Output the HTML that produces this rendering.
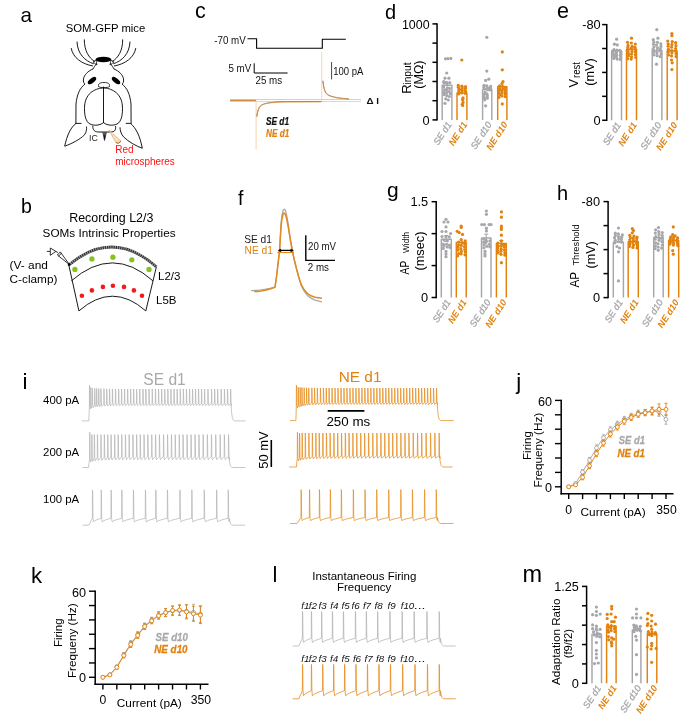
<!DOCTYPE html>
<html><head><meta charset="utf-8"><style>html,body{margin:0;padding:0;background:#fff;width:685px;height:716px;overflow:hidden}svg{display:block;will-change:transform}text{font-family:"Liberation Sans",sans-serif}</style></head><body>
<svg width="685" height="716" viewBox="0 0 685 716">
<rect width="685" height="716" fill="#fff"/>
<text x="20.4" y="21.5" font-size="20.6" fill="#000">a</text>
<text x="21" y="212.5" font-size="19.5" fill="#000">b</text>
<text x="195" y="17.8" font-size="21.5" fill="#000">c</text>
<text x="385" y="18.6" font-size="20" fill="#000">d</text>
<text x="557" y="17.5" font-size="21.5" fill="#000">e</text>
<text x="237.9" y="205.2" font-size="19.5" fill="#000">f</text>
<text x="387" y="196.8" font-size="21" fill="#000">g</text>
<text x="557" y="200.3" font-size="20" fill="#000">h</text>
<text x="22.6" y="388.6" font-size="22.5" fill="#000">i</text>
<text x="516.3" y="388.6" font-size="22.5" fill="#000">j</text>
<text x="31" y="582.7" font-size="22.3" fill="#000">k</text>
<text x="272.6" y="581.8" font-size="22" fill="#000">l</text>
<text x="522.6" y="582.1" font-size="23.5" fill="#000">m</text>
<text x="105.5" y="32.2" font-size="11.3" fill="#000" text-anchor="middle">SOM-GFP mice</text>
<path d="M71.2,48.1 C73,58 82,64 93,66" fill="none" stroke="#000" stroke-width="0.9"/>
<path d="M77,41.6 C77.5,54 85,61 93.8,63.8" fill="none" stroke="#000" stroke-width="0.9"/>
<path d="M84.3,39.4 C84.3,51 89,58 94.8,61.6" fill="none" stroke="#000" stroke-width="0.9"/>
<g transform="translate(207,0) scale(-1,1)">
<path d="M71.2,48.1 C73,58 82,64 93,66" fill="none" stroke="#000" stroke-width="0.9"/>
<path d="M77,41.6 C77.5,54 85,61 93.8,63.8" fill="none" stroke="#000" stroke-width="0.9"/>
<path d="M84.3,39.4 C84.3,51 89,58 94.8,61.6" fill="none" stroke="#000" stroke-width="0.9"/>
</g>
<ellipse cx="103.4" cy="59.5" rx="7.9" ry="2.8" fill="#000"/>
<g transform="translate(0,0) scale(1,1)">
<path d="M93,62 L96,60 L97,65 Z" fill="none" stroke="#000" stroke-width="0.7"/>
</g>
<g transform="translate(207,0) scale(-1,1)">
<path d="M93,62 L96,60 L97,65 Z" fill="none" stroke="#000" stroke-width="0.7"/>
</g>
<path d="M96.5,63.5 C95,66 94,67 93,69 C88,71 84,75 83.5,79 C83,82 84,83.5 85,84 C80,88 77,94 76,104 L75.9,124 " fill="none" stroke="#000" stroke-width="0.9"/>
<g transform="translate(207,0) scale(-1,1)">
<path d="M96.5,63.5 C95,66 94,67 93,69 C88,71 84,75 83.5,79 C83,82 84,83.5 85,84 C80,88 77,94 76,104 L75.9,124 " fill="none" stroke="#000" stroke-width="0.9"/>
</g>
<ellipse cx="92.0" cy="80.6" rx="5.0" ry="2.3" transform="rotate(-38 92 80.6)" fill="#000"/>
<ellipse cx="116.0" cy="80.6" rx="5.0" ry="2.3" transform="rotate(38 116 80.6)" fill="#000"/>
<path d="M98.5,86.5 C98,83.5 100,82.5 104,82.5 C108,82.5 110,83.5 109.5,86.5 C108,88 100,88 98.5,86.5 Z" fill="none" stroke="#000" stroke-width="0.8"/>
<line x1="103.5" y1="86.5" x2="103.5" y2="88.5" stroke="#000" stroke-width="0.7"/>
<path d="M103.5,88 C97,88 85.5,92 84.6,106 C84.2,113 85,119.5 88.5,123 C92,126 99.5,126 103.5,122.6 C107.5,126 115,126 118.5,123 C122,119.5 122.8,113 122.4,106 C121.5,92 110,88 103.5,88 Z" fill="none" stroke="#000" stroke-width="0.9"/>
<line x1="103.5" y1="88" x2="103.5" y2="123" stroke="#000" stroke-width="0.9"/>
<path d="M92.8,125.8 C92.6,130.5 95,132 99,132 L110.5,132 C114.5,132 116,130.5 115.6,126" fill="none" stroke="#000" stroke-width="0.9"/>
<path d="M102.9,132.3 L104.5,140.4 L106.3,132.3 M104.0,132.3 L104.6,138.5 L105.2,132.3" fill="none" stroke="#000" stroke-width="0.75"/>
<path d="M81.5,123.4 L76.1,123.4 C71,127 67,135 64.7,146.2 C72,143.5 80,139.5 84.5,134.8 C86.5,132 86.8,129 86.5,126.6" fill="none" stroke="#000" stroke-width="0.9"/>
<path d="M125.8,123.4 L130.5,123.4 C136,128 140,136 142.3,148.3 C136,146 128,141.5 123.5,136.8 C121,134 120,130 120,127.3" fill="none" stroke="#000" stroke-width="0.9"/>
<path d="M108.9,130.0 L115.9,142.6 Q118.5,144.6 121.0,141.2 Z" fill="#f6dcb8" stroke="#dfa35c" stroke-width="0.7"/>
<path d="M110.8,134.6 L113.3,132.9 M112.6,137.6 L116.2,135.3 M114.4,140.5 L119.2,137.9" fill="none" stroke="#fbeede" stroke-width="0.6"/>
<path d="M115.9,142.6 Q118.5,144.6 121.0,141.2" fill="none" stroke="#9a6a30" stroke-width="0.9"/>
<text x="89" y="140.8" font-size="8.8" fill="#222">IC</text>
<text x="115.3" y="152.8" font-size="10" fill="#ff1010">Red</text>
<text x="115.3" y="165" font-size="10" fill="#ff1010" textLength="59.5" lengthAdjust="spacingAndGlyphs">microspheres</text>
<text x="69.2" y="222.3" font-size="12.2" fill="#000" textLength="84.2" lengthAdjust="spacingAndGlyphs">Recording L2/3</text>
<text x="42.6" y="237.4" font-size="11.7" fill="#000" textLength="133" lengthAdjust="spacingAndGlyphs">SOMs Intrinsic Properties</text>
<text x="9.6" y="269.4" font-size="11.5" fill="#000" textLength="38.3" lengthAdjust="spacingAndGlyphs">(V- and</text>
<text x="9.6" y="283.3" font-size="11.5" fill="#000" textLength="47.8" lengthAdjust="spacingAndGlyphs">C-clamp)</text>
<text x="158" y="279.8" font-size="11.5" fill="#000">L2/3</text>
<text x="156" y="304.4" font-size="11.5" fill="#000">L5B</text>
<path d="M68.8,265 L78.9,310.9 M156.4,266.8 L145.8,310.9" fill="none" stroke="#000" stroke-width="0.9"/>
<path d="M68.8,265 Q112.6,228.2 156.4,266.8" fill="none" stroke="#333" stroke-width="2.9"/>
<path d="M68.8,265 Q112.6,228.2 156.4,266.8" fill="none" stroke="#fff" stroke-width="2.9" stroke-dasharray="0.9 1.3" stroke-opacity="0.55"/>
<path d="M71.4,280.8 Q112.6,245 152.9,280.8" fill="none" stroke="#000" stroke-width="0.9"/>
<path d="M78.9,310.9 Q112.6,281.5 145.8,310.9" fill="none" stroke="#000" stroke-width="0.9"/>
<circle cx="74.9" cy="269.4" r="2.65" fill="#86c21e" stroke="none" stroke-width="1"/>
<circle cx="91.9" cy="258.9" r="2.65" fill="#86c21e" stroke="none" stroke-width="1"/>
<circle cx="112.9" cy="257.2" r="2.65" fill="#86c21e" stroke="none" stroke-width="1"/>
<circle cx="131.8" cy="259.8" r="2.65" fill="#86c21e" stroke="none" stroke-width="1"/>
<circle cx="149" cy="269.4" r="2.65" fill="#86c21e" stroke="none" stroke-width="1"/>
<circle cx="81.9" cy="295.7" r="2.3" fill="#f21b1b" stroke="none" stroke-width="1"/>
<circle cx="91.9" cy="290.4" r="2.3" fill="#f21b1b" stroke="none" stroke-width="1"/>
<circle cx="102.9" cy="286.9" r="2.3" fill="#f21b1b" stroke="none" stroke-width="1"/>
<circle cx="112.9" cy="285.7" r="2.3" fill="#f21b1b" stroke="none" stroke-width="1"/>
<circle cx="124" cy="286.9" r="2.3" fill="#f21b1b" stroke="none" stroke-width="1"/>
<circle cx="133.9" cy="290.4" r="2.3" fill="#f21b1b" stroke="none" stroke-width="1"/>
<circle cx="142" cy="295.7" r="2.3" fill="#f21b1b" stroke="none" stroke-width="1"/>
<line x1="46.8" y1="251.4" x2="50.4" y2="251.4" stroke="#000" stroke-width="0.8"/>
<path d="M50.3,248.0 L50.3,255.3 L55.9,251.4 Z" fill="#fff" stroke="#000" stroke-width="0.8"/>
<path d="M55.9,251.4 L58.0,252.6" fill="none" stroke="#000" stroke-width="0.8"/>
<path d="M57.4,255.0 L60.3,251.9 L69.6,264.8 Z" fill="#fff" stroke="#000" stroke-width="0.8"/>
<path d="M58.4,256.4 L61.6,253.0" fill="none" stroke="#000" stroke-width="0.8"/>
<circle cx="69" cy="264.8" r="1.2" fill="#000" stroke="none" stroke-width="1"/>
<text x="245.8" y="44" font-size="9.8" fill="#111" text-anchor="end" transform="translate(0 -5.28) scale(1 1.12)">-70 mV</text>
<polyline points="247.5,38.7 256.6,38.7 256.6,48.2 322.3,48.2 322.3,39.2 345.8,39.2" fill="none" stroke="#000" stroke-width="1.1" stroke-linejoin="round"/>
<text x="251.3" y="71.9" font-size="9.8" fill="#111" text-anchor="end" transform="translate(0 -9.35) scale(1 1.13)">5 mV</text>
<polyline points="254.2,63.3 254.2,73 287.6,73" fill="none" stroke="#000" stroke-width="1" stroke-linejoin="round"/>
<text x="255.5" y="84.1" font-size="9.8" fill="#111" transform="translate(0 -15.14) scale(1 1.18)">25 ms</text>
<line x1="331.6" y1="62" x2="331.6" y2="79.4" stroke="#444" stroke-width="1"/>
<text x="333.2" y="74.9" font-size="9.9" fill="#111" transform="translate(0 -9.74) scale(1 1.13)" textLength="30.2" lengthAdjust="spacingAndGlyphs">100 pA</text>
<line x1="230.2" y1="99.5" x2="361" y2="99.5" stroke="#bdbdbd" stroke-width="0.7"/>
<line x1="230.2" y1="101.5" x2="361" y2="101.5" stroke="#c8c8c8" stroke-width="0.7"/>
<text x="366.5" y="103.8" font-size="9.8" fill="#111" font-weight="bold">Δ I</text>
<line x1="256.1" y1="100.5" x2="256.1" y2="149.5" stroke="#f3c48e" stroke-width="0.7"/>
<line x1="321.7" y1="52" x2="321.7" y2="101.5" stroke="#f3c48e" stroke-width="0.7"/>
<polyline points="230.2,100.4 255.9,100.4" fill="none" stroke="#3a3a3a" stroke-width="0.6" stroke-linejoin="round"/>
<polyline points="256.8,116.42 257.2,113.88 257.6,111.92 258,110.4 258.4,109.2 258.8,108.25 259.2,107.48 259.6,106.87 260,106.36 260.4,105.94 260.8,105.59 261.2,105.28 261.6,105.02 262,104.79 262.4,104.59 262.8,104.4 263.2,104.24 263.6,104.08 264,103.94 264.4,103.81 264.8,103.69 265.2,103.58 265.6,103.47 266,103.37 266.4,103.28 266.8,103.19 267.2,103.11 267.6,103.03 268,102.95 268.4,102.88 268.8,102.81 269.2,102.75 269.6,102.69 270,102.63 270.4,102.57 270.8,102.52 271.2,102.47 271.6,102.43 272,102.38 272.4,102.34 272.8,102.3 273.2,102.26 273.6,102.22 274,102.19 274.4,102.15 274.8,102.12 275.2,102.09 275.6,102.06 276,102.03 276.4,102.01 276.8,101.98 277.2,101.96 277.6,101.94 278,101.92 278.4,101.9 278.8,101.88 279.2,101.86 279.6,101.84 280,101.82 280.4,101.81 280.8,101.79 281.2,101.78 281.6,101.76 282,101.75 282.4,101.74 282.8,101.73 283.2,101.72 283.6,101.71 284,101.7 284.4,101.69 284.8,101.68 285.2,101.67 285.6,101.66 286,101.65 286.4,101.65 286.8,101.64 287.2,101.63 287.6,101.63 288,101.62 288.4,101.61 321.3,101.5" fill="none" stroke="#3a3a3a" stroke-width="0.6" stroke-linejoin="round"/>
<polyline points="322.9,80.74 323.3,83.85 323.7,86.25 324.1,88.11 324.5,89.56 324.9,90.7 325.3,91.61 325.7,92.34 326.1,92.94 326.5,93.43 326.9,93.84 327.3,94.19 327.7,94.5 328.1,94.76 328.5,95 328.9,95.21 329.3,95.4 329.7,95.58 330.1,95.75 330.5,95.9 330.9,96.04 331.3,96.18 331.7,96.31 332.1,96.43 332.5,96.54 332.9,96.65 333.3,96.76 333.7,96.86 334.1,96.96 334.5,97.05 334.9,97.14 335.3,97.22 335.7,97.31 336.1,97.38 336.5,97.46 336.9,97.53 337.3,97.6 337.7,97.67 338.1,97.73 338.5,97.79 338.9,97.85 339.3,97.91 339.7,97.96 340.1,98.02 340.5,98.07 340.9,98.12 341.3,98.16 341.7,98.21 342.1,98.25 342.5,98.29 342.9,98.33 343.3,98.37 343.7,98.4 344.1,98.44 344.5,98.47 344.9,98.51 345.3,98.54 345.7,98.57 346.1,98.6 346.5,98.62 346.9,98.65 347.3,98.68 347.7,98.7 348.1,98.72 348.5,98.75 348.9,98.77" fill="none" stroke="#3a3a3a" stroke-width="0.6" stroke-linejoin="round"/>
<polyline points="230.2,100.7 255.9,100.7" fill="none" stroke="#e6891a" stroke-width="0.85" stroke-linejoin="round"/>
<polyline points="256.8,116.72 257.2,114.18 257.6,112.22 258,110.7 258.4,109.5 258.8,108.55 259.2,107.78 259.6,107.17 260,106.66 260.4,106.24 260.8,105.89 261.2,105.58 261.6,105.32 262,105.09 262.4,104.89 262.8,104.7 263.2,104.54 263.6,104.38 264,104.24 264.4,104.11 264.8,103.99 265.2,103.88 265.6,103.77 266,103.67 266.4,103.58 266.8,103.49 267.2,103.41 267.6,103.33 268,103.25 268.4,103.18 268.8,103.11 269.2,103.05 269.6,102.99 270,102.93 270.4,102.87 270.8,102.82 271.2,102.77 271.6,102.73 272,102.68 272.4,102.64 272.8,102.6 273.2,102.56 273.6,102.52 274,102.49 274.4,102.45 274.8,102.42 275.2,102.39 275.6,102.36 276,102.33 276.4,102.31 276.8,102.28 277.2,102.26 277.6,102.24 278,102.22 278.4,102.2 278.8,102.18 279.2,102.16 279.6,102.14 280,102.12 280.4,102.11 280.8,102.09 281.2,102.08 281.6,102.06 282,102.05 282.4,102.04 282.8,102.03 283.2,102.02 283.6,102.01 284,102 284.4,101.99 284.8,101.98 285.2,101.97 285.6,101.96 286,101.95 286.4,101.95 286.8,101.94 287.2,101.93 287.6,101.93 288,101.92 288.4,101.91 321.3,101.8" fill="none" stroke="#e6891a" stroke-width="0.85" stroke-linejoin="round"/>
<polyline points="322.9,81.04 323.3,84.15 323.7,86.55 324.1,88.41 324.5,89.86 324.9,91 325.3,91.91 325.7,92.64 326.1,93.24 326.5,93.73 326.9,94.14 327.3,94.49 327.7,94.8 328.1,95.06 328.5,95.3 328.9,95.51 329.3,95.7 329.7,95.88 330.1,96.05 330.5,96.2 330.9,96.34 331.3,96.48 331.7,96.61 332.1,96.73 332.5,96.84 332.9,96.95 333.3,97.06 333.7,97.16 334.1,97.26 334.5,97.35 334.9,97.44 335.3,97.52 335.7,97.61 336.1,97.68 336.5,97.76 336.9,97.83 337.3,97.9 337.7,97.97 338.1,98.03 338.5,98.09 338.9,98.15 339.3,98.21 339.7,98.26 340.1,98.32 340.5,98.37 340.9,98.42 341.3,98.46 341.7,98.51 342.1,98.55 342.5,98.59 342.9,98.63 343.3,98.67 343.7,98.7 344.1,98.74 344.5,98.77 344.9,98.81 345.3,98.84 345.7,98.87 346.1,98.9 346.5,98.92 346.9,98.95 347.3,98.98 347.7,99 348.1,99.02 348.5,99.05 348.9,99.07" fill="none" stroke="#e6891a" stroke-width="0.85" stroke-linejoin="round"/>
<text x="266" y="125" font-size="9.6" fill="#111" font-weight="bold" font-style="italic" transform="translate(0 -15) scale(1 1.12)" stroke="#111" stroke-width="0.2" textLength="23" lengthAdjust="spacingAndGlyphs">SE d1</text>
<text x="266" y="136.8" font-size="9.6" fill="#e2820e" font-weight="bold" font-style="italic" transform="translate(0 -13.68) scale(1 1.1)" stroke="#e2820e" stroke-width="0.2" textLength="23.2" lengthAdjust="spacingAndGlyphs">NE d1</text>
<line x1="437.05" y1="23.2" x2="437.05" y2="120.6" stroke="#000" stroke-width="1.5"/>
<line x1="432.45" y1="23.9" x2="437.05" y2="23.9" stroke="#000" stroke-width="1.5"/>
<line x1="432.45" y1="43.1" x2="437.05" y2="43.1" stroke="#000" stroke-width="1.5"/>
<line x1="432.45" y1="62.3" x2="437.05" y2="62.3" stroke="#000" stroke-width="1.5"/>
<line x1="432.45" y1="81.5" x2="437.05" y2="81.5" stroke="#000" stroke-width="1.5"/>
<line x1="432.45" y1="100.7" x2="437.05" y2="100.7" stroke="#000" stroke-width="1.5"/>
<line x1="432.45" y1="119.9" x2="437.05" y2="119.9" stroke="#000" stroke-width="1.5"/>
<text x="429.55" y="28.5" font-size="12.8" fill="#000" text-anchor="end" textLength="27.6" lengthAdjust="spacingAndGlyphs">1000</text>
<text x="429.55" y="124.5" font-size="12.8" fill="#000" text-anchor="end">0</text>
<polyline points="442.2,119.9 442.2,85.3 451.9,85.3 451.9,119.9" fill="none" stroke="#a6a7ab" stroke-width="1.45" stroke-linejoin="round" stroke-linejoin="miter"/>
<circle cx="445.5" cy="58.8" r="1.6" fill="#a6a7ab" stroke="none" stroke-width="1"/>
<circle cx="447.9" cy="58.6" r="1.6" fill="#a6a7ab" stroke="none" stroke-width="1"/>
<circle cx="450.8" cy="58.4" r="1.6" fill="#a6a7ab" stroke="none" stroke-width="1"/>
<circle cx="446.7" cy="73" r="1.6" fill="#a6a7ab" stroke="none" stroke-width="1"/>
<circle cx="445" cy="78.2" r="1.6" fill="#a6a7ab" stroke="none" stroke-width="1"/>
<circle cx="448.9" cy="78.2" r="1.6" fill="#a6a7ab" stroke="none" stroke-width="1"/>
<circle cx="443.68" cy="81.63" r="1.6" fill="#a6a7ab" stroke="none" stroke-width="1"/>
<circle cx="446.49" cy="82.26" r="1.6" fill="#a6a7ab" stroke="none" stroke-width="1"/>
<circle cx="449.74" cy="82.71" r="1.6" fill="#a6a7ab" stroke="none" stroke-width="1"/>
<circle cx="444.11" cy="83.02" r="1.6" fill="#a6a7ab" stroke="none" stroke-width="1"/>
<circle cx="446.92" cy="83.51" r="1.6" fill="#a6a7ab" stroke="none" stroke-width="1"/>
<circle cx="443.61" cy="86.65" r="1.6" fill="#a6a7ab" stroke="none" stroke-width="1"/>
<circle cx="447.39" cy="87.76" r="1.6" fill="#a6a7ab" stroke="none" stroke-width="1"/>
<circle cx="449.57" cy="88.42" r="1.6" fill="#a6a7ab" stroke="none" stroke-width="1"/>
<circle cx="444.64" cy="89.64" r="1.6" fill="#a6a7ab" stroke="none" stroke-width="1"/>
<circle cx="446.88" cy="90.47" r="1.6" fill="#a6a7ab" stroke="none" stroke-width="1"/>
<circle cx="449.36" cy="91.61" r="1.6" fill="#a6a7ab" stroke="none" stroke-width="1"/>
<circle cx="443.85" cy="92.4" r="1.6" fill="#a6a7ab" stroke="none" stroke-width="1"/>
<circle cx="446.54" cy="92.77" r="1.6" fill="#a6a7ab" stroke="none" stroke-width="1"/>
<circle cx="450.28" cy="93.75" r="1.6" fill="#a6a7ab" stroke="none" stroke-width="1"/>
<circle cx="444.2" cy="94.53" r="1.6" fill="#a6a7ab" stroke="none" stroke-width="1"/>
<circle cx="446.85" cy="95.71" r="1.6" fill="#a6a7ab" stroke="none" stroke-width="1"/>
<circle cx="449.38" cy="96.51" r="1.6" fill="#a6a7ab" stroke="none" stroke-width="1"/>
<circle cx="445.7" cy="98.8" r="1.6" fill="#a6a7ab" stroke="none" stroke-width="1"/>
<circle cx="448.3" cy="100" r="1.6" fill="#a6a7ab" stroke="none" stroke-width="1"/>
<circle cx="445" cy="103.3" r="1.6" fill="#a6a7ab" stroke="none" stroke-width="1"/>
<text x="451.95" y="124.5" font-size="9.3" fill="#a6a7ab" font-style="italic" text-anchor="end" transform="rotate(-57 451.95 124.5)" stroke="#a6a7ab" stroke-width="0.3">SE d1</text>
<polyline points="457,119.9 457,93 466.9,93 466.9,119.9" fill="none" stroke="#e2820e" stroke-width="1.45" stroke-linejoin="round" stroke-linejoin="miter"/>
<circle cx="461.8" cy="60" r="1.6" fill="#e2820e" stroke="none" stroke-width="1"/>
<circle cx="458.25" cy="85.33" r="1.6" fill="#e2820e" stroke="none" stroke-width="1"/>
<circle cx="461.91" cy="86.17" r="1.6" fill="#e2820e" stroke="none" stroke-width="1"/>
<circle cx="465.5" cy="86.57" r="1.6" fill="#e2820e" stroke="none" stroke-width="1"/>
<circle cx="458.36" cy="87.19" r="1.6" fill="#e2820e" stroke="none" stroke-width="1"/>
<circle cx="462.24" cy="87.91" r="1.6" fill="#e2820e" stroke="none" stroke-width="1"/>
<circle cx="465.49" cy="88.22" r="1.6" fill="#e2820e" stroke="none" stroke-width="1"/>
<circle cx="459.05" cy="88.91" r="1.6" fill="#e2820e" stroke="none" stroke-width="1"/>
<circle cx="461.75" cy="89.57" r="1.6" fill="#e2820e" stroke="none" stroke-width="1"/>
<circle cx="464.94" cy="90.24" r="1.6" fill="#e2820e" stroke="none" stroke-width="1"/>
<circle cx="458.91" cy="90.55" r="1.6" fill="#e2820e" stroke="none" stroke-width="1"/>
<circle cx="461.99" cy="90.99" r="1.6" fill="#e2820e" stroke="none" stroke-width="1"/>
<circle cx="465.6" cy="91.51" r="1.6" fill="#e2820e" stroke="none" stroke-width="1"/>
<circle cx="458.69" cy="92.39" r="1.6" fill="#e2820e" stroke="none" stroke-width="1"/>
<circle cx="461.78" cy="93.01" r="1.6" fill="#e2820e" stroke="none" stroke-width="1"/>
<circle cx="465.51" cy="93.49" r="1.6" fill="#e2820e" stroke="none" stroke-width="1"/>
<circle cx="458.55" cy="94" r="1.6" fill="#e2820e" stroke="none" stroke-width="1"/>
<circle cx="463.03" cy="97.89" r="1.6" fill="#e2820e" stroke="none" stroke-width="1"/>
<circle cx="462.7" cy="99.03" r="1.6" fill="#e2820e" stroke="none" stroke-width="1"/>
<circle cx="462.74" cy="100.11" r="1.6" fill="#e2820e" stroke="none" stroke-width="1"/>
<circle cx="463.09" cy="102.49" r="1.6" fill="#e2820e" stroke="none" stroke-width="1"/>
<circle cx="462.24" cy="104.33" r="1.6" fill="#e2820e" stroke="none" stroke-width="1"/>
<circle cx="462.7" cy="105.38" r="1.6" fill="#e2820e" stroke="none" stroke-width="1"/>
<text x="467.75" y="124.5" font-size="9.3" fill="#e2820e" font-weight="bold" font-style="italic" text-anchor="end" transform="rotate(-57 467.75 124.5)">NE d1</text>
<polyline points="482.6,119.9 482.6,89.1 491.8,89.1 491.8,119.9" fill="none" stroke="#a6a7ab" stroke-width="1.45" stroke-linejoin="round" stroke-linejoin="miter"/>
<circle cx="486.8" cy="37.3" r="1.6" fill="#a6a7ab" stroke="none" stroke-width="1"/>
<circle cx="486.8" cy="71.1" r="1.6" fill="#a6a7ab" stroke="none" stroke-width="1"/>
<circle cx="485.6" cy="80.4" r="1.6" fill="#a6a7ab" stroke="none" stroke-width="1"/>
<circle cx="488.8" cy="79.2" r="1.6" fill="#a6a7ab" stroke="none" stroke-width="1"/>
<circle cx="484.05" cy="85.31" r="1.6" fill="#a6a7ab" stroke="none" stroke-width="1"/>
<circle cx="486.79" cy="85.94" r="1.6" fill="#a6a7ab" stroke="none" stroke-width="1"/>
<circle cx="490.72" cy="86.46" r="1.6" fill="#a6a7ab" stroke="none" stroke-width="1"/>
<circle cx="483.8" cy="87.06" r="1.6" fill="#a6a7ab" stroke="none" stroke-width="1"/>
<circle cx="487.7" cy="87.74" r="1.6" fill="#a6a7ab" stroke="none" stroke-width="1"/>
<circle cx="490.34" cy="88.17" r="1.6" fill="#a6a7ab" stroke="none" stroke-width="1"/>
<circle cx="484.56" cy="88.95" r="1.6" fill="#a6a7ab" stroke="none" stroke-width="1"/>
<circle cx="487.69" cy="89.64" r="1.6" fill="#a6a7ab" stroke="none" stroke-width="1"/>
<circle cx="490.3" cy="89.96" r="1.6" fill="#a6a7ab" stroke="none" stroke-width="1"/>
<circle cx="485.06" cy="92.07" r="1.6" fill="#a6a7ab" stroke="none" stroke-width="1"/>
<circle cx="486.98" cy="93.97" r="1.6" fill="#a6a7ab" stroke="none" stroke-width="1"/>
<circle cx="484.28" cy="94.45" r="1.6" fill="#a6a7ab" stroke="none" stroke-width="1"/>
<circle cx="487.38" cy="95.8" r="1.6" fill="#a6a7ab" stroke="none" stroke-width="1"/>
<circle cx="484.32" cy="97.45" r="1.6" fill="#a6a7ab" stroke="none" stroke-width="1"/>
<circle cx="487.3" cy="98.13" r="1.6" fill="#a6a7ab" stroke="none" stroke-width="1"/>
<circle cx="484.68" cy="99.79" r="1.6" fill="#a6a7ab" stroke="none" stroke-width="1"/>
<circle cx="485.6" cy="105.8" r="1.6" fill="#a6a7ab" stroke="none" stroke-width="1"/>
<text x="492.1" y="124.5" font-size="9.3" fill="#a6a7ab" font-style="italic" text-anchor="end" transform="rotate(-57 492.1 124.5)" stroke="#a6a7ab" stroke-width="0.3">SE d10</text>
<polyline points="497.7,119.9 497.7,86.6 506.9,86.6 506.9,119.9" fill="none" stroke="#e2820e" stroke-width="1.45" stroke-linejoin="round" stroke-linejoin="miter"/>
<circle cx="502.3" cy="51.9" r="1.6" fill="#e2820e" stroke="none" stroke-width="1"/>
<circle cx="502.3" cy="69.8" r="1.6" fill="#e2820e" stroke="none" stroke-width="1"/>
<circle cx="503" cy="81.5" r="1.6" fill="#e2820e" stroke="none" stroke-width="1"/>
<circle cx="502" cy="83.5" r="1.6" fill="#e2820e" stroke="none" stroke-width="1"/>
<circle cx="499.53" cy="85.91" r="1.6" fill="#e2820e" stroke="none" stroke-width="1"/>
<circle cx="502.49" cy="86.42" r="1.6" fill="#e2820e" stroke="none" stroke-width="1"/>
<circle cx="504.86" cy="87.32" r="1.6" fill="#e2820e" stroke="none" stroke-width="1"/>
<circle cx="499.64" cy="88.25" r="1.6" fill="#e2820e" stroke="none" stroke-width="1"/>
<circle cx="502.71" cy="89.03" r="1.6" fill="#e2820e" stroke="none" stroke-width="1"/>
<circle cx="505.28" cy="89.52" r="1.6" fill="#e2820e" stroke="none" stroke-width="1"/>
<circle cx="499.46" cy="90.13" r="1.6" fill="#e2820e" stroke="none" stroke-width="1"/>
<circle cx="501.83" cy="90.9" r="1.6" fill="#e2820e" stroke="none" stroke-width="1"/>
<circle cx="504.99" cy="91.78" r="1.6" fill="#e2820e" stroke="none" stroke-width="1"/>
<circle cx="498.76" cy="92.66" r="1.6" fill="#e2820e" stroke="none" stroke-width="1"/>
<circle cx="501.93" cy="93.24" r="1.6" fill="#e2820e" stroke="none" stroke-width="1"/>
<circle cx="505.24" cy="94.1" r="1.6" fill="#e2820e" stroke="none" stroke-width="1"/>
<circle cx="499.75" cy="94.84" r="1.6" fill="#e2820e" stroke="none" stroke-width="1"/>
<circle cx="501.93" cy="96.01" r="1.6" fill="#e2820e" stroke="none" stroke-width="1"/>
<circle cx="505.22" cy="96.57" r="1.6" fill="#e2820e" stroke="none" stroke-width="1"/>
<circle cx="498.85" cy="97.44" r="1.6" fill="#e2820e" stroke="none" stroke-width="1"/>
<circle cx="502.3" cy="103.9" r="1.6" fill="#e2820e" stroke="none" stroke-width="1"/>
<text x="508.1" y="124.5" font-size="9.3" fill="#e2820e" font-weight="bold" font-style="italic" text-anchor="end" transform="rotate(-57 508.1 124.5)">NE d10</text>
<text transform="translate(410.7 93.7) rotate(-90)" font-size="13.2">R</text>
<text transform="translate(411.4 84.6) rotate(-90)" font-size="10.8" textLength="22.2" lengthAdjust="spacingAndGlyphs">input</text>
<text transform="translate(423.4 74.6) rotate(-90)" text-anchor="middle"><tspan font-size="12.5" dy="0">(MΩ)</tspan></text>
<line x1="606.75" y1="23.9" x2="606.75" y2="120.95" stroke="#000" stroke-width="1.5"/>
<line x1="602.15" y1="24.6" x2="606.75" y2="24.6" stroke="#000" stroke-width="1.5"/>
<line x1="602.15" y1="48.51" x2="606.75" y2="48.51" stroke="#000" stroke-width="1.5"/>
<line x1="602.15" y1="72.43" x2="606.75" y2="72.43" stroke="#000" stroke-width="1.5"/>
<line x1="602.15" y1="96.34" x2="606.75" y2="96.34" stroke="#000" stroke-width="1.5"/>
<line x1="602.15" y1="120.25" x2="606.75" y2="120.25" stroke="#000" stroke-width="1.5"/>
<text x="600.65" y="29.2" font-size="12.8" fill="#000" text-anchor="end">-80</text>
<text x="600.65" y="124.85" font-size="12.8" fill="#000" text-anchor="end">0</text>
<polyline points="611.6,120.25 611.6,50.7 621.5,50.7 621.5,120.25" fill="none" stroke="#a6a7ab" stroke-width="1.45" stroke-linejoin="round" stroke-linejoin="miter"/>
<circle cx="616.6" cy="39.2" r="1.6" fill="#a6a7ab" stroke="none" stroke-width="1"/>
<circle cx="614.4" cy="44.2" r="1.6" fill="#a6a7ab" stroke="none" stroke-width="1"/>
<circle cx="617.3" cy="44.9" r="1.6" fill="#a6a7ab" stroke="none" stroke-width="1"/>
<circle cx="613.99" cy="49.6" r="1.6" fill="#a6a7ab" stroke="none" stroke-width="1"/>
<circle cx="616.78" cy="50.02" r="1.6" fill="#a6a7ab" stroke="none" stroke-width="1"/>
<circle cx="619.72" cy="50.43" r="1.6" fill="#a6a7ab" stroke="none" stroke-width="1"/>
<circle cx="613.12" cy="51.15" r="1.6" fill="#a6a7ab" stroke="none" stroke-width="1"/>
<circle cx="616.39" cy="51.97" r="1.6" fill="#a6a7ab" stroke="none" stroke-width="1"/>
<circle cx="620.74" cy="52.18" r="1.6" fill="#a6a7ab" stroke="none" stroke-width="1"/>
<circle cx="612.98" cy="53.02" r="1.6" fill="#a6a7ab" stroke="none" stroke-width="1"/>
<circle cx="616.23" cy="53.62" r="1.6" fill="#a6a7ab" stroke="none" stroke-width="1"/>
<circle cx="620.77" cy="54.21" r="1.6" fill="#a6a7ab" stroke="none" stroke-width="1"/>
<circle cx="613.64" cy="54.96" r="1.6" fill="#a6a7ab" stroke="none" stroke-width="1"/>
<circle cx="616.64" cy="55.27" r="1.6" fill="#a6a7ab" stroke="none" stroke-width="1"/>
<circle cx="620.53" cy="55.82" r="1.6" fill="#a6a7ab" stroke="none" stroke-width="1"/>
<circle cx="613.73" cy="56.59" r="1.6" fill="#a6a7ab" stroke="none" stroke-width="1"/>
<circle cx="616.47" cy="57.08" r="1.6" fill="#a6a7ab" stroke="none" stroke-width="1"/>
<circle cx="620.78" cy="57.91" r="1.6" fill="#a6a7ab" stroke="none" stroke-width="1"/>
<circle cx="613.77" cy="58.52" r="1.6" fill="#a6a7ab" stroke="none" stroke-width="1"/>
<circle cx="617.09" cy="59.1" r="1.6" fill="#a6a7ab" stroke="none" stroke-width="1"/>
<circle cx="620.22" cy="59.41" r="1.6" fill="#a6a7ab" stroke="none" stroke-width="1"/>
<text x="621.45" y="124.85" font-size="9.3" fill="#a6a7ab" font-style="italic" text-anchor="end" transform="rotate(-57 621.45 124.85)" stroke="#a6a7ab" stroke-width="0.3">SE d1</text>
<polyline points="626.5,120.25 626.5,49.2 636.5,49.2 636.5,120.25" fill="none" stroke="#e2820e" stroke-width="1.45" stroke-linejoin="round" stroke-linejoin="miter"/>
<circle cx="631.5" cy="38.2" r="1.6" fill="#e2820e" stroke="none" stroke-width="1"/>
<circle cx="627.53" cy="42.35" r="1.6" fill="#e2820e" stroke="none" stroke-width="1"/>
<circle cx="631.34" cy="43.01" r="1.6" fill="#e2820e" stroke="none" stroke-width="1"/>
<circle cx="635.33" cy="44.06" r="1.6" fill="#e2820e" stroke="none" stroke-width="1"/>
<circle cx="628.04" cy="45.45" r="1.6" fill="#e2820e" stroke="none" stroke-width="1"/>
<circle cx="632.19" cy="46.33" r="1.6" fill="#e2820e" stroke="none" stroke-width="1"/>
<circle cx="634.94" cy="47.23" r="1.6" fill="#e2820e" stroke="none" stroke-width="1"/>
<circle cx="627.77" cy="47.6" r="1.6" fill="#e2820e" stroke="none" stroke-width="1"/>
<circle cx="631.25" cy="48.47" r="1.6" fill="#e2820e" stroke="none" stroke-width="1"/>
<circle cx="635.58" cy="49.66" r="1.6" fill="#e2820e" stroke="none" stroke-width="1"/>
<circle cx="628.08" cy="50.71" r="1.6" fill="#e2820e" stroke="none" stroke-width="1"/>
<circle cx="631.96" cy="51.46" r="1.6" fill="#e2820e" stroke="none" stroke-width="1"/>
<circle cx="635.29" cy="51.95" r="1.6" fill="#e2820e" stroke="none" stroke-width="1"/>
<circle cx="628.44" cy="53.43" r="1.6" fill="#e2820e" stroke="none" stroke-width="1"/>
<circle cx="631.57" cy="54.2" r="1.6" fill="#e2820e" stroke="none" stroke-width="1"/>
<circle cx="635.45" cy="54.69" r="1.6" fill="#e2820e" stroke="none" stroke-width="1"/>
<circle cx="628.46" cy="55.69" r="1.6" fill="#e2820e" stroke="none" stroke-width="1"/>
<circle cx="631.48" cy="57.03" r="1.6" fill="#e2820e" stroke="none" stroke-width="1"/>
<circle cx="635.64" cy="57.52" r="1.6" fill="#e2820e" stroke="none" stroke-width="1"/>
<circle cx="627.7" cy="58.64" r="1.6" fill="#e2820e" stroke="none" stroke-width="1"/>
<circle cx="631.18" cy="59.1" r="1.6" fill="#e2820e" stroke="none" stroke-width="1"/>
<text x="637.3" y="124.85" font-size="9.3" fill="#e2820e" font-weight="bold" font-style="italic" text-anchor="end" transform="rotate(-57 637.3 124.85)">NE d1</text>
<polyline points="652.2,120.25 652.2,50.7 661.9,50.7 661.9,120.25" fill="none" stroke="#a6a7ab" stroke-width="1.45" stroke-linejoin="round" stroke-linejoin="miter"/>
<circle cx="656.8" cy="29.7" r="1.6" fill="#a6a7ab" stroke="none" stroke-width="1"/>
<circle cx="653.3" cy="39.7" r="1.6" fill="#a6a7ab" stroke="none" stroke-width="1"/>
<circle cx="657.9" cy="38.2" r="1.6" fill="#a6a7ab" stroke="none" stroke-width="1"/>
<circle cx="653.77" cy="42.03" r="1.6" fill="#a6a7ab" stroke="none" stroke-width="1"/>
<circle cx="657.44" cy="42.37" r="1.6" fill="#a6a7ab" stroke="none" stroke-width="1"/>
<circle cx="660.89" cy="43.83" r="1.6" fill="#a6a7ab" stroke="none" stroke-width="1"/>
<circle cx="653.46" cy="44.26" r="1.6" fill="#a6a7ab" stroke="none" stroke-width="1"/>
<circle cx="656.47" cy="44.98" r="1.6" fill="#a6a7ab" stroke="none" stroke-width="1"/>
<circle cx="660.88" cy="46.44" r="1.6" fill="#a6a7ab" stroke="none" stroke-width="1"/>
<circle cx="653.92" cy="47" r="1.6" fill="#a6a7ab" stroke="none" stroke-width="1"/>
<circle cx="657.5" cy="47.81" r="1.6" fill="#a6a7ab" stroke="none" stroke-width="1"/>
<circle cx="660.35" cy="48.95" r="1.6" fill="#a6a7ab" stroke="none" stroke-width="1"/>
<circle cx="653.15" cy="49.43" r="1.6" fill="#a6a7ab" stroke="none" stroke-width="1"/>
<circle cx="657.15" cy="50.29" r="1.6" fill="#a6a7ab" stroke="none" stroke-width="1"/>
<circle cx="660.6" cy="51.18" r="1.6" fill="#a6a7ab" stroke="none" stroke-width="1"/>
<circle cx="653.89" cy="51.96" r="1.6" fill="#a6a7ab" stroke="none" stroke-width="1"/>
<circle cx="657" cy="52.99" r="1.6" fill="#a6a7ab" stroke="none" stroke-width="1"/>
<circle cx="661.19" cy="54.02" r="1.6" fill="#a6a7ab" stroke="none" stroke-width="1"/>
<circle cx="653.9" cy="54.78" r="1.6" fill="#a6a7ab" stroke="none" stroke-width="1"/>
<circle cx="657.09" cy="55.71" r="1.6" fill="#a6a7ab" stroke="none" stroke-width="1"/>
<circle cx="660.12" cy="56.59" r="1.6" fill="#a6a7ab" stroke="none" stroke-width="1"/>
<circle cx="656.5" cy="64.2" r="1.6" fill="#a6a7ab" stroke="none" stroke-width="1"/>
<text x="661.95" y="124.85" font-size="9.3" fill="#a6a7ab" font-style="italic" text-anchor="end" transform="rotate(-57 661.95 124.85)" stroke="#a6a7ab" stroke-width="0.3">SE d10</text>
<polyline points="667.2,120.25 667.2,50.7 677.1,50.7 677.1,120.25" fill="none" stroke="#e2820e" stroke-width="1.45" stroke-linejoin="round" stroke-linejoin="miter"/>
<circle cx="671.9" cy="33.5" r="1.6" fill="#e2820e" stroke="none" stroke-width="1"/>
<circle cx="671.9" cy="35.7" r="1.6" fill="#e2820e" stroke="none" stroke-width="1"/>
<circle cx="667.72" cy="41.02" r="1.6" fill="#e2820e" stroke="none" stroke-width="1"/>
<circle cx="672.21" cy="41.61" r="1.6" fill="#e2820e" stroke="none" stroke-width="1"/>
<circle cx="675.57" cy="42.65" r="1.6" fill="#e2820e" stroke="none" stroke-width="1"/>
<circle cx="668.17" cy="43.96" r="1.6" fill="#e2820e" stroke="none" stroke-width="1"/>
<circle cx="671.87" cy="44.58" r="1.6" fill="#e2820e" stroke="none" stroke-width="1"/>
<circle cx="675.94" cy="45.66" r="1.6" fill="#e2820e" stroke="none" stroke-width="1"/>
<circle cx="668.17" cy="46.24" r="1.6" fill="#e2820e" stroke="none" stroke-width="1"/>
<circle cx="671.58" cy="47.26" r="1.6" fill="#e2820e" stroke="none" stroke-width="1"/>
<circle cx="675.61" cy="48.55" r="1.6" fill="#e2820e" stroke="none" stroke-width="1"/>
<circle cx="668.41" cy="49.31" r="1.6" fill="#e2820e" stroke="none" stroke-width="1"/>
<circle cx="671.78" cy="50.48" r="1.6" fill="#e2820e" stroke="none" stroke-width="1"/>
<circle cx="675.61" cy="51.17" r="1.6" fill="#e2820e" stroke="none" stroke-width="1"/>
<circle cx="668.33" cy="52.01" r="1.6" fill="#e2820e" stroke="none" stroke-width="1"/>
<circle cx="671.89" cy="52.87" r="1.6" fill="#e2820e" stroke="none" stroke-width="1"/>
<circle cx="676.13" cy="53.8" r="1.6" fill="#e2820e" stroke="none" stroke-width="1"/>
<circle cx="668.55" cy="54.88" r="1.6" fill="#e2820e" stroke="none" stroke-width="1"/>
<circle cx="671.56" cy="55.96" r="1.6" fill="#e2820e" stroke="none" stroke-width="1"/>
<circle cx="676.13" cy="56.6" r="1.6" fill="#e2820e" stroke="none" stroke-width="1"/>
<circle cx="671.5" cy="60" r="1.6" fill="#e2820e" stroke="none" stroke-width="1"/>
<circle cx="672.2" cy="62.8" r="1.6" fill="#e2820e" stroke="none" stroke-width="1"/>
<circle cx="671.9" cy="69.6" r="1.6" fill="#e2820e" stroke="none" stroke-width="1"/>
<text x="677.95" y="124.85" font-size="9.3" fill="#e2820e" font-weight="bold" font-style="italic" text-anchor="end" transform="rotate(-57 677.95 124.85)">NE d10</text>
<text transform="translate(578.2 87.4) rotate(-90)" font-size="12.7">V</text>
<text transform="translate(580.1 78) rotate(-90)" font-size="10.3" textLength="16" lengthAdjust="spacingAndGlyphs">rest</text>
<text transform="translate(593.9 72) rotate(-90)" text-anchor="middle"><tspan font-size="12.7" dy="0">(mV)</tspan></text>
<polyline points="251.1,290.6 253.09,290.56 255.08,290.46 257.07,290.32 259.07,290.13 261.06,289.9 263.05,289.62 265.04,289.31 267.03,288.96 269.02,288.57 271.02,288.15 273.01,287.69 275,287.2 276.5,277 278,264 279.6,250.02 280.4,235.39 281.1,222.96 282,215.04 283,210.64 284.2,209.1 285.4,210.42 286.6,215.04 288,222.96 289.3,231.54 290.6,240.34 292.6,251.78 294.5,260.8 296.5,268.95 298.8,277.61 301.1,285.18 304,290.91 307.3,295.25 311,298.13 315,300.11 321.9,301.9" fill="none" stroke="#a9a9a9" stroke-width="1.3" stroke-linejoin="round"/>
<polyline points="254.2,291.6 255.93,291.55 257.67,291.43 259.4,291.24 261.13,290.99 262.87,290.69 264.6,290.34 266.33,289.93 268.07,289.48 269.8,288.98 271.53,288.43 273.27,287.84 275,287.2 276.5,277 278,264 279.6,250.3 280.4,237 281.1,225.7 282,218.5 283,214.5 284.2,213.1 285.4,214.3 286.6,218.5 288,225.7 289.3,233.5 290.6,241.5 292.6,251.9 294.5,260.8 296.5,268.8 298.8,277 301.1,284.2 304,289.5 307.3,293.4 311,295.8 315,297.3 321.9,298.3" fill="none" stroke="#e38a1c" stroke-width="1.5" stroke-linejoin="round"/>
<line x1="279" y1="250.4" x2="292.8" y2="250.4" stroke="#000" stroke-width="1.3"/>
<path d="M277.9,250.4 L281.0,248.9 L281.0,251.9 Z" fill="#000" stroke="#000" stroke-width="0.2"/>
<path d="M293.7,250.4 L290.6,248.9 L290.6,251.9 Z" fill="#000" stroke="#000" stroke-width="0.2"/>
<line x1="277.3" y1="252.5" x2="294" y2="252.5" stroke="#e38a1c" stroke-width="1.1"/>
<text x="244.2" y="242.6" font-size="10.2" fill="#222">SE d1</text>
<text x="244.6" y="254.1" font-size="10.2" fill="#e2820e">NE d1</text>
<polyline points="305.8,235.3 305.8,260.4 335,260.4" fill="none" stroke="#000" stroke-width="1.4" stroke-linejoin="round"/>
<text x="308" y="250.2" font-size="10.2" fill="#111" textLength="28" lengthAdjust="spacingAndGlyphs">20 mV</text>
<text x="307.8" y="271.4" font-size="10.2" fill="#111" textLength="21.2" lengthAdjust="spacingAndGlyphs">2 ms</text>
<line x1="436.2" y1="201" x2="436.2" y2="298.2" stroke="#000" stroke-width="1.5"/>
<line x1="431.6" y1="201.7" x2="436.2" y2="201.7" stroke="#000" stroke-width="1.5"/>
<line x1="431.6" y1="233.63" x2="436.2" y2="233.63" stroke="#000" stroke-width="1.5"/>
<line x1="431.6" y1="265.57" x2="436.2" y2="265.57" stroke="#000" stroke-width="1.5"/>
<line x1="431.6" y1="297.5" x2="436.2" y2="297.5" stroke="#000" stroke-width="1.5"/>
<text x="428.2" y="206.3" font-size="12.8" fill="#000" text-anchor="end">1.5</text>
<text x="428.2" y="302.1" font-size="12.8" fill="#000" text-anchor="end">0</text>
<polyline points="441.3,297.5 441.3,239.2 451.3,239.2 451.3,297.5" fill="none" stroke="#a6a7ab" stroke-width="1.45" stroke-linejoin="round" stroke-linejoin="miter"/>
<line x1="446.3" y1="235.5" x2="446.3" y2="241.5" stroke="#a6a7ab" stroke-width="1.1"/>
<line x1="444.3" y1="235.5" x2="448.3" y2="235.5" stroke="#a6a7ab" stroke-width="1.1"/>
<line x1="444.3" y1="241.5" x2="448.3" y2="241.5" stroke="#a6a7ab" stroke-width="1.1"/>
<circle cx="446" cy="219.3" r="1.6" fill="#a6a7ab" stroke="none" stroke-width="1"/>
<circle cx="444" cy="222" r="1.6" fill="#a6a7ab" stroke="none" stroke-width="1"/>
<circle cx="448" cy="222" r="1.6" fill="#a6a7ab" stroke="none" stroke-width="1"/>
<circle cx="446" cy="226.9" r="1.6" fill="#a6a7ab" stroke="none" stroke-width="1"/>
<circle cx="442" cy="231.5" r="1.6" fill="#a6a7ab" stroke="none" stroke-width="1"/>
<circle cx="446" cy="231.5" r="1.6" fill="#a6a7ab" stroke="none" stroke-width="1"/>
<circle cx="450.6" cy="233.5" r="1.6" fill="#a6a7ab" stroke="none" stroke-width="1"/>
<circle cx="442" cy="236.5" r="1.6" fill="#a6a7ab" stroke="none" stroke-width="1"/>
<circle cx="446" cy="236.8" r="1.6" fill="#a6a7ab" stroke="none" stroke-width="1"/>
<circle cx="449.3" cy="236.8" r="1.6" fill="#a6a7ab" stroke="none" stroke-width="1"/>
<circle cx="444" cy="240" r="1.6" fill="#a6a7ab" stroke="none" stroke-width="1"/>
<circle cx="447.3" cy="240.8" r="1.6" fill="#a6a7ab" stroke="none" stroke-width="1"/>
<circle cx="443.16" cy="244.01" r="1.6" fill="#a6a7ab" stroke="none" stroke-width="1"/>
<circle cx="446.58" cy="244.33" r="1.6" fill="#a6a7ab" stroke="none" stroke-width="1"/>
<circle cx="449.39" cy="245.06" r="1.6" fill="#a6a7ab" stroke="none" stroke-width="1"/>
<circle cx="443.8" cy="245.82" r="1.6" fill="#a6a7ab" stroke="none" stroke-width="1"/>
<circle cx="447.13" cy="247" r="1.6" fill="#a6a7ab" stroke="none" stroke-width="1"/>
<circle cx="449.96" cy="247.38" r="1.6" fill="#a6a7ab" stroke="none" stroke-width="1"/>
<circle cx="443.17" cy="248.44" r="1.6" fill="#a6a7ab" stroke="none" stroke-width="1"/>
<circle cx="446" cy="251.4" r="1.6" fill="#a6a7ab" stroke="none" stroke-width="1"/>
<circle cx="446" cy="254" r="1.6" fill="#a6a7ab" stroke="none" stroke-width="1"/>
<circle cx="446" cy="256.7" r="1.6" fill="#a6a7ab" stroke="none" stroke-width="1"/>
<text x="451.2" y="302.1" font-size="9.3" fill="#a6a7ab" font-style="italic" text-anchor="end" transform="rotate(-57 451.2 302.1)" stroke="#a6a7ab" stroke-width="0.3">SE d1</text>
<polyline points="456.3,297.5 456.3,242.4 466.2,242.4 466.2,297.5" fill="none" stroke="#e2820e" stroke-width="1.45" stroke-linejoin="round" stroke-linejoin="miter"/>
<circle cx="461.2" cy="226" r="1.6" fill="#e2820e" stroke="none" stroke-width="1"/>
<circle cx="461.2" cy="227.5" r="1.6" fill="#e2820e" stroke="none" stroke-width="1"/>
<circle cx="457.2" cy="231.3" r="1.6" fill="#e2820e" stroke="none" stroke-width="1"/>
<circle cx="459.2" cy="232.6" r="1.6" fill="#e2820e" stroke="none" stroke-width="1"/>
<circle cx="462.5" cy="234.4" r="1.6" fill="#e2820e" stroke="none" stroke-width="1"/>
<circle cx="461.2" cy="239.7" r="1.6" fill="#e2820e" stroke="none" stroke-width="1"/>
<circle cx="465.2" cy="240.8" r="1.6" fill="#e2820e" stroke="none" stroke-width="1"/>
<circle cx="458.66" cy="242.17" r="1.6" fill="#e2820e" stroke="none" stroke-width="1"/>
<circle cx="461.94" cy="242.62" r="1.6" fill="#e2820e" stroke="none" stroke-width="1"/>
<circle cx="464.68" cy="243.7" r="1.6" fill="#e2820e" stroke="none" stroke-width="1"/>
<circle cx="458.5" cy="245.1" r="1.6" fill="#e2820e" stroke="none" stroke-width="1"/>
<circle cx="461.32" cy="245.42" r="1.6" fill="#e2820e" stroke="none" stroke-width="1"/>
<circle cx="464.51" cy="246.64" r="1.6" fill="#e2820e" stroke="none" stroke-width="1"/>
<circle cx="457.88" cy="247.35" r="1.6" fill="#e2820e" stroke="none" stroke-width="1"/>
<circle cx="460.82" cy="248.7" r="1.6" fill="#e2820e" stroke="none" stroke-width="1"/>
<circle cx="464.63" cy="249.52" r="1.6" fill="#e2820e" stroke="none" stroke-width="1"/>
<circle cx="457.9" cy="250.06" r="1.6" fill="#e2820e" stroke="none" stroke-width="1"/>
<circle cx="461.41" cy="251.47" r="1.6" fill="#e2820e" stroke="none" stroke-width="1"/>
<circle cx="465.28" cy="252" r="1.6" fill="#e2820e" stroke="none" stroke-width="1"/>
<circle cx="458.67" cy="253.5" r="1.6" fill="#e2820e" stroke="none" stroke-width="1"/>
<circle cx="461.12" cy="253.93" r="1.6" fill="#e2820e" stroke="none" stroke-width="1"/>
<circle cx="465.03" cy="254.83" r="1.6" fill="#e2820e" stroke="none" stroke-width="1"/>
<circle cx="457.66" cy="255.96" r="1.6" fill="#e2820e" stroke="none" stroke-width="1"/>
<text x="467.05" y="302.1" font-size="9.3" fill="#e2820e" font-weight="bold" font-style="italic" text-anchor="end" transform="rotate(-57 467.05 302.1)">NE d1</text>
<polyline points="481.5,297.5 481.5,237.9 491,237.9 491,297.5" fill="none" stroke="#a6a7ab" stroke-width="1.45" stroke-linejoin="round" stroke-linejoin="miter"/>
<line x1="486.25" y1="234.2" x2="486.25" y2="241.5" stroke="#a6a7ab" stroke-width="1.1"/>
<line x1="484.25" y1="234.2" x2="488.25" y2="234.2" stroke="#a6a7ab" stroke-width="1.1"/>
<line x1="484.25" y1="241.5" x2="488.25" y2="241.5" stroke="#a6a7ab" stroke-width="1.1"/>
<circle cx="486.4" cy="211" r="1.6" fill="#a6a7ab" stroke="none" stroke-width="1"/>
<circle cx="486.4" cy="214.3" r="1.6" fill="#a6a7ab" stroke="none" stroke-width="1"/>
<circle cx="481.8" cy="224.6" r="1.6" fill="#a6a7ab" stroke="none" stroke-width="1"/>
<circle cx="484.4" cy="224.6" r="1.6" fill="#a6a7ab" stroke="none" stroke-width="1"/>
<circle cx="489.1" cy="224.6" r="1.6" fill="#a6a7ab" stroke="none" stroke-width="1"/>
<circle cx="491" cy="224.6" r="1.6" fill="#a6a7ab" stroke="none" stroke-width="1"/>
<circle cx="486.4" cy="228.2" r="1.6" fill="#a6a7ab" stroke="none" stroke-width="1"/>
<circle cx="486.4" cy="230.9" r="1.6" fill="#a6a7ab" stroke="none" stroke-width="1"/>
<circle cx="483.89" cy="239.14" r="1.6" fill="#a6a7ab" stroke="none" stroke-width="1"/>
<circle cx="486.11" cy="240.46" r="1.6" fill="#a6a7ab" stroke="none" stroke-width="1"/>
<circle cx="489.9" cy="240.92" r="1.6" fill="#a6a7ab" stroke="none" stroke-width="1"/>
<circle cx="483.64" cy="242.26" r="1.6" fill="#a6a7ab" stroke="none" stroke-width="1"/>
<circle cx="485.87" cy="242.87" r="1.6" fill="#a6a7ab" stroke="none" stroke-width="1"/>
<circle cx="489.31" cy="244.35" r="1.6" fill="#a6a7ab" stroke="none" stroke-width="1"/>
<circle cx="483.93" cy="244.86" r="1.6" fill="#a6a7ab" stroke="none" stroke-width="1"/>
<circle cx="486.76" cy="246.31" r="1.6" fill="#a6a7ab" stroke="none" stroke-width="1"/>
<circle cx="489.83" cy="246.87" r="1.6" fill="#a6a7ab" stroke="none" stroke-width="1"/>
<circle cx="483.84" cy="247.85" r="1.6" fill="#a6a7ab" stroke="none" stroke-width="1"/>
<circle cx="485" cy="251.4" r="1.6" fill="#a6a7ab" stroke="none" stroke-width="1"/>
<circle cx="485" cy="254" r="1.6" fill="#a6a7ab" stroke="none" stroke-width="1"/>
<circle cx="485" cy="256" r="1.6" fill="#a6a7ab" stroke="none" stroke-width="1"/>
<text x="491.15" y="302.1" font-size="9.3" fill="#a6a7ab" font-style="italic" text-anchor="end" transform="rotate(-57 491.15 302.1)" stroke="#a6a7ab" stroke-width="0.3">SE d10</text>
<polyline points="496.4,297.5 496.4,243.5 506.3,243.5 506.3,297.5" fill="none" stroke="#e2820e" stroke-width="1.45" stroke-linejoin="round" stroke-linejoin="miter"/>
<line x1="501.35" y1="240.5" x2="501.35" y2="246.1" stroke="#e2820e" stroke-width="1.1"/>
<line x1="499.35" y1="240.5" x2="503.35" y2="240.5" stroke="#e2820e" stroke-width="1.1"/>
<line x1="499.35" y1="246.1" x2="503.35" y2="246.1" stroke="#e2820e" stroke-width="1.1"/>
<circle cx="501.4" cy="211.9" r="1.6" fill="#e2820e" stroke="none" stroke-width="1"/>
<circle cx="501.4" cy="217.2" r="1.6" fill="#e2820e" stroke="none" stroke-width="1"/>
<circle cx="501.4" cy="226" r="1.6" fill="#e2820e" stroke="none" stroke-width="1"/>
<circle cx="501.4" cy="227.8" r="1.6" fill="#e2820e" stroke="none" stroke-width="1"/>
<circle cx="501.4" cy="229.5" r="1.6" fill="#e2820e" stroke="none" stroke-width="1"/>
<circle cx="501.4" cy="235.2" r="1.6" fill="#e2820e" stroke="none" stroke-width="1"/>
<circle cx="501.4" cy="240.8" r="1.6" fill="#e2820e" stroke="none" stroke-width="1"/>
<circle cx="497.91" cy="243.1" r="1.6" fill="#e2820e" stroke="none" stroke-width="1"/>
<circle cx="501.96" cy="244.01" r="1.6" fill="#e2820e" stroke="none" stroke-width="1"/>
<circle cx="504.36" cy="244.66" r="1.6" fill="#e2820e" stroke="none" stroke-width="1"/>
<circle cx="497.79" cy="245.67" r="1.6" fill="#e2820e" stroke="none" stroke-width="1"/>
<circle cx="501.04" cy="246.23" r="1.6" fill="#e2820e" stroke="none" stroke-width="1"/>
<circle cx="504.44" cy="247.03" r="1.6" fill="#e2820e" stroke="none" stroke-width="1"/>
<circle cx="497.87" cy="248.05" r="1.6" fill="#e2820e" stroke="none" stroke-width="1"/>
<circle cx="501.2" cy="249.19" r="1.6" fill="#e2820e" stroke="none" stroke-width="1"/>
<circle cx="504.41" cy="249.86" r="1.6" fill="#e2820e" stroke="none" stroke-width="1"/>
<circle cx="497.52" cy="250.59" r="1.6" fill="#e2820e" stroke="none" stroke-width="1"/>
<circle cx="500.87" cy="251.37" r="1.6" fill="#e2820e" stroke="none" stroke-width="1"/>
<circle cx="504.86" cy="252.53" r="1.6" fill="#e2820e" stroke="none" stroke-width="1"/>
<circle cx="498.07" cy="253.01" r="1.6" fill="#e2820e" stroke="none" stroke-width="1"/>
<circle cx="500.98" cy="254.35" r="1.6" fill="#e2820e" stroke="none" stroke-width="1"/>
<circle cx="504.72" cy="255.11" r="1.6" fill="#e2820e" stroke="none" stroke-width="1"/>
<circle cx="501.4" cy="262.7" r="1.6" fill="#e2820e" stroke="none" stroke-width="1"/>
<text x="507.15" y="302.1" font-size="9.3" fill="#e2820e" font-weight="bold" font-style="italic" text-anchor="end" transform="rotate(-57 507.15 302.1)">NE d10</text>
<text transform="translate(408.6 274.4) rotate(-90)" font-size="13.6" textLength="13.6" lengthAdjust="spacingAndGlyphs">AP</text>
<text transform="translate(408.6 253) rotate(-90)" font-size="8.8" textLength="21.2" lengthAdjust="spacingAndGlyphs">Width</text>
<text transform="translate(424 251.1) rotate(-90)" font-size="13.2" text-anchor="middle" textLength="39" lengthAdjust="spacingAndGlyphs">(msec)</text>
<line x1="608.1" y1="200.9" x2="608.1" y2="298.3" stroke="#000" stroke-width="1.5"/>
<line x1="603.5" y1="201.6" x2="608.1" y2="201.6" stroke="#000" stroke-width="1.5"/>
<line x1="603.5" y1="225.6" x2="608.1" y2="225.6" stroke="#000" stroke-width="1.5"/>
<line x1="603.5" y1="249.6" x2="608.1" y2="249.6" stroke="#000" stroke-width="1.5"/>
<line x1="603.5" y1="273.6" x2="608.1" y2="273.6" stroke="#000" stroke-width="1.5"/>
<line x1="603.5" y1="297.6" x2="608.1" y2="297.6" stroke="#000" stroke-width="1.5"/>
<text x="600" y="206.2" font-size="12.8" fill="#000" text-anchor="end">-80</text>
<text x="600" y="302.2" font-size="12.8" fill="#000" text-anchor="end">0</text>
<polyline points="613.3,297.6 613.3,242.1 623.4,242.1 623.4,297.6" fill="none" stroke="#a6a7ab" stroke-width="1.45" stroke-linejoin="round" stroke-linejoin="miter"/>
<circle cx="618.5" cy="228" r="1.6" fill="#a6a7ab" stroke="none" stroke-width="1"/>
<circle cx="615.3" cy="233.13" r="1.6" fill="#a6a7ab" stroke="none" stroke-width="1"/>
<circle cx="618.36" cy="233.88" r="1.6" fill="#a6a7ab" stroke="none" stroke-width="1"/>
<circle cx="622.38" cy="234.9" r="1.6" fill="#a6a7ab" stroke="none" stroke-width="1"/>
<circle cx="615.3" cy="235.49" r="1.6" fill="#a6a7ab" stroke="none" stroke-width="1"/>
<circle cx="618.51" cy="236.56" r="1.6" fill="#a6a7ab" stroke="none" stroke-width="1"/>
<circle cx="621.62" cy="237.18" r="1.6" fill="#a6a7ab" stroke="none" stroke-width="1"/>
<circle cx="614.46" cy="237.77" r="1.6" fill="#a6a7ab" stroke="none" stroke-width="1"/>
<circle cx="618.64" cy="238.61" r="1.6" fill="#a6a7ab" stroke="none" stroke-width="1"/>
<circle cx="621.4" cy="239.55" r="1.6" fill="#a6a7ab" stroke="none" stroke-width="1"/>
<circle cx="615.31" cy="240.26" r="1.6" fill="#a6a7ab" stroke="none" stroke-width="1"/>
<circle cx="618.55" cy="241.6" r="1.6" fill="#a6a7ab" stroke="none" stroke-width="1"/>
<circle cx="621.49" cy="242.04" r="1.6" fill="#a6a7ab" stroke="none" stroke-width="1"/>
<circle cx="614.85" cy="242.87" r="1.6" fill="#a6a7ab" stroke="none" stroke-width="1"/>
<circle cx="617" cy="246.5" r="1.6" fill="#a6a7ab" stroke="none" stroke-width="1"/>
<circle cx="619.5" cy="248" r="1.6" fill="#a6a7ab" stroke="none" stroke-width="1"/>
<circle cx="618.5" cy="251.8" r="1.6" fill="#a6a7ab" stroke="none" stroke-width="1"/>
<circle cx="618.5" cy="280.9" r="1.6" fill="#a6a7ab" stroke="none" stroke-width="1"/>
<text x="623.25" y="302.2" font-size="9.3" fill="#a6a7ab" font-style="italic" text-anchor="end" transform="rotate(-57 623.25 302.2)" stroke="#a6a7ab" stroke-width="0.3">SE d1</text>
<polyline points="628.2,297.6 628.2,241.7 638.3,241.7 638.3,297.6" fill="none" stroke="#e2820e" stroke-width="1.45" stroke-linejoin="round" stroke-linejoin="miter"/>
<circle cx="632.3" cy="228.7" r="1.6" fill="#e2820e" stroke="none" stroke-width="1"/>
<circle cx="633.5" cy="230.5" r="1.6" fill="#e2820e" stroke="none" stroke-width="1"/>
<circle cx="632.3" cy="232.8" r="1.6" fill="#e2820e" stroke="none" stroke-width="1"/>
<circle cx="629.73" cy="235.29" r="1.6" fill="#e2820e" stroke="none" stroke-width="1"/>
<circle cx="633.9" cy="236.08" r="1.6" fill="#e2820e" stroke="none" stroke-width="1"/>
<circle cx="636.96" cy="237.22" r="1.6" fill="#e2820e" stroke="none" stroke-width="1"/>
<circle cx="630.36" cy="237.53" r="1.6" fill="#e2820e" stroke="none" stroke-width="1"/>
<circle cx="633.18" cy="238.29" r="1.6" fill="#e2820e" stroke="none" stroke-width="1"/>
<circle cx="636.76" cy="238.84" r="1.6" fill="#e2820e" stroke="none" stroke-width="1"/>
<circle cx="629.8" cy="239.84" r="1.6" fill="#e2820e" stroke="none" stroke-width="1"/>
<circle cx="633.36" cy="240.41" r="1.6" fill="#e2820e" stroke="none" stroke-width="1"/>
<circle cx="636.62" cy="241.03" r="1.6" fill="#e2820e" stroke="none" stroke-width="1"/>
<circle cx="629.68" cy="241.8" r="1.6" fill="#e2820e" stroke="none" stroke-width="1"/>
<circle cx="632.78" cy="242.5" r="1.6" fill="#e2820e" stroke="none" stroke-width="1"/>
<circle cx="636.58" cy="243.38" r="1.6" fill="#e2820e" stroke="none" stroke-width="1"/>
<circle cx="629.84" cy="244.27" r="1.6" fill="#e2820e" stroke="none" stroke-width="1"/>
<circle cx="633.54" cy="245.1" r="1.6" fill="#e2820e" stroke="none" stroke-width="1"/>
<circle cx="637.35" cy="245.81" r="1.6" fill="#e2820e" stroke="none" stroke-width="1"/>
<circle cx="629.59" cy="246.34" r="1.6" fill="#e2820e" stroke="none" stroke-width="1"/>
<circle cx="632.93" cy="247.42" r="1.6" fill="#e2820e" stroke="none" stroke-width="1"/>
<circle cx="637.07" cy="247.99" r="1.6" fill="#e2820e" stroke="none" stroke-width="1"/>
<text x="639.05" y="302.2" font-size="9.3" fill="#e2820e" font-weight="bold" font-style="italic" text-anchor="end" transform="rotate(-57 639.05 302.2)">NE d1</text>
<polyline points="653.7,297.6 653.7,237.6 663.2,237.6 663.2,297.6" fill="none" stroke="#a6a7ab" stroke-width="1.45" stroke-linejoin="round" stroke-linejoin="miter"/>
<circle cx="658.5" cy="227.5" r="1.6" fill="#a6a7ab" stroke="none" stroke-width="1"/>
<circle cx="655.7" cy="229.84" r="1.6" fill="#a6a7ab" stroke="none" stroke-width="1"/>
<circle cx="658.75" cy="231.58" r="1.6" fill="#a6a7ab" stroke="none" stroke-width="1"/>
<circle cx="662.27" cy="232.49" r="1.6" fill="#a6a7ab" stroke="none" stroke-width="1"/>
<circle cx="655.33" cy="233.04" r="1.6" fill="#a6a7ab" stroke="none" stroke-width="1"/>
<circle cx="659" cy="234.38" r="1.6" fill="#a6a7ab" stroke="none" stroke-width="1"/>
<circle cx="662.29" cy="235.67" r="1.6" fill="#a6a7ab" stroke="none" stroke-width="1"/>
<circle cx="655.77" cy="236.53" r="1.6" fill="#a6a7ab" stroke="none" stroke-width="1"/>
<circle cx="658.83" cy="237.65" r="1.6" fill="#a6a7ab" stroke="none" stroke-width="1"/>
<circle cx="661.34" cy="238.31" r="1.6" fill="#a6a7ab" stroke="none" stroke-width="1"/>
<circle cx="655.13" cy="239.27" r="1.6" fill="#a6a7ab" stroke="none" stroke-width="1"/>
<circle cx="659" cy="240.29" r="1.6" fill="#a6a7ab" stroke="none" stroke-width="1"/>
<circle cx="662.05" cy="241.7" r="1.6" fill="#a6a7ab" stroke="none" stroke-width="1"/>
<circle cx="655.52" cy="242.8" r="1.6" fill="#a6a7ab" stroke="none" stroke-width="1"/>
<circle cx="658" cy="243.73" r="1.6" fill="#a6a7ab" stroke="none" stroke-width="1"/>
<circle cx="662.2" cy="245.02" r="1.6" fill="#a6a7ab" stroke="none" stroke-width="1"/>
<circle cx="655.34" cy="245.82" r="1.6" fill="#a6a7ab" stroke="none" stroke-width="1"/>
<circle cx="658.08" cy="246.99" r="1.6" fill="#a6a7ab" stroke="none" stroke-width="1"/>
<circle cx="661.6" cy="248.09" r="1.6" fill="#a6a7ab" stroke="none" stroke-width="1"/>
<circle cx="655.02" cy="248.58" r="1.6" fill="#a6a7ab" stroke="none" stroke-width="1"/>
<circle cx="658.25" cy="250.17" r="1.6" fill="#a6a7ab" stroke="none" stroke-width="1"/>
<text x="663.35" y="302.2" font-size="9.3" fill="#a6a7ab" font-style="italic" text-anchor="end" transform="rotate(-57 663.35 302.2)" stroke="#a6a7ab" stroke-width="0.3">SE d10</text>
<polyline points="668.6,297.6 668.6,240.5 678.7,240.5 678.7,297.6" fill="none" stroke="#e2820e" stroke-width="1.45" stroke-linejoin="round" stroke-linejoin="miter"/>
<circle cx="673.3" cy="226.9" r="1.6" fill="#e2820e" stroke="none" stroke-width="1"/>
<circle cx="672.7" cy="234.6" r="1.6" fill="#e2820e" stroke="none" stroke-width="1"/>
<circle cx="675.1" cy="235.8" r="1.6" fill="#e2820e" stroke="none" stroke-width="1"/>
<circle cx="670.77" cy="236.77" r="1.6" fill="#e2820e" stroke="none" stroke-width="1"/>
<circle cx="673.66" cy="237.28" r="1.6" fill="#e2820e" stroke="none" stroke-width="1"/>
<circle cx="677.62" cy="237.91" r="1.6" fill="#e2820e" stroke="none" stroke-width="1"/>
<circle cx="670.34" cy="238.69" r="1.6" fill="#e2820e" stroke="none" stroke-width="1"/>
<circle cx="673.29" cy="239.26" r="1.6" fill="#e2820e" stroke="none" stroke-width="1"/>
<circle cx="677.1" cy="239.64" r="1.6" fill="#e2820e" stroke="none" stroke-width="1"/>
<circle cx="669.97" cy="240.58" r="1.6" fill="#e2820e" stroke="none" stroke-width="1"/>
<circle cx="673.21" cy="241.12" r="1.6" fill="#e2820e" stroke="none" stroke-width="1"/>
<circle cx="677.12" cy="241.5" r="1.6" fill="#e2820e" stroke="none" stroke-width="1"/>
<circle cx="670.43" cy="242.44" r="1.6" fill="#e2820e" stroke="none" stroke-width="1"/>
<circle cx="673.55" cy="243.08" r="1.6" fill="#e2820e" stroke="none" stroke-width="1"/>
<circle cx="677.36" cy="243.63" r="1.6" fill="#e2820e" stroke="none" stroke-width="1"/>
<circle cx="669.74" cy="244.24" r="1.6" fill="#e2820e" stroke="none" stroke-width="1"/>
<circle cx="673.44" cy="245.09" r="1.6" fill="#e2820e" stroke="none" stroke-width="1"/>
<circle cx="677.92" cy="245.76" r="1.6" fill="#e2820e" stroke="none" stroke-width="1"/>
<circle cx="672.7" cy="250.6" r="1.6" fill="#e2820e" stroke="none" stroke-width="1"/>
<circle cx="673.3" cy="254.2" r="1.6" fill="#e2820e" stroke="none" stroke-width="1"/>
<text x="679.45" y="302.2" font-size="9.3" fill="#e2820e" font-weight="bold" font-style="italic" text-anchor="end" transform="rotate(-57 679.45 302.2)">NE d10</text>
<text transform="translate(579.3 287.6) rotate(-90)" font-size="13.4" textLength="15.6" lengthAdjust="spacingAndGlyphs">AP</text>
<text transform="translate(579.2 265.6) rotate(-90)" font-size="9.2" textLength="41.4" lengthAdjust="spacingAndGlyphs">Threshold</text>
<text transform="translate(594.9 254.9) rotate(-90)" text-anchor="middle"><tspan font-size="12.6" dy="0">(mV)</tspan></text>
<text x="79.2" y="404.1" font-size="11.4" fill="#000" text-anchor="end">400 pA</text>
<text x="79.2" y="455.5" font-size="11.4" fill="#000" text-anchor="end">200 pA</text>
<text x="79.2" y="502.5" font-size="11.4" fill="#000" text-anchor="end">100 pA</text>
<text x="164.5" y="385.2" font-size="15.6" fill="#aaaaaa" text-anchor="middle">SE d1</text>
<text x="360.1" y="382.3" font-size="15.4" fill="#e2820e" text-anchor="middle">NE d1</text>
<polyline points="81.8,420.9 88.8,420.9 89.1,413.1 89.35,407.2 89.5,385.2 89.7,387.7 90,407.2 90.5,409 90.55,406.36 90.7,387.65 90.9,390.15 91.2,406.36 91.7,408.16 92.15,405.72 92.3,387.98 92.5,390.48 92.8,405.72 93.3,407.52 94.55,405.24 94.7,388.24 94.9,390.74 95.2,405.24 95.7,407.04 96.45,404.88 96.6,388.43 96.8,390.93 97.1,404.88 97.6,406.68 98.55,404.61 98.7,388.57 98.9,391.07 99.2,404.61 99.7,406.41 100.75,404.41 100.9,388.68 101.1,391.18 101.4,404.41 101.9,406.21 103.75,404.26 103.9,388.76 104.1,391.26 104.4,404.26 104.9,406.06 106.55,404.15 106.7,388.82 106.9,391.32 107.2,404.15 107.7,405.95 109.35,404.06 109.5,388.86 109.7,391.36 110,404.06 110.5,405.86 112.25,404 112.4,388.9 112.6,391.4 112.9,404 113.4,405.8 115.35,403.95 115.5,388.92 115.7,391.42 116,403.95 116.5,405.75 118.45,403.91 118.6,388.94 118.8,391.44 119.1,403.91 119.6,405.71 121.35,403.88 121.5,388.96 121.7,391.46 122,403.88 122.5,405.68 124.35,403.86 124.5,388.97 124.7,391.47 125,403.86 125.5,405.66 127.45,403.85 127.6,388.98 127.8,391.48 128.1,403.85 128.6,405.65 130.45,403.84 130.6,388.98 130.8,391.48 131.1,403.84 131.6,405.64 133.45,403.83 133.6,388.99 133.8,391.49 134.1,403.83 134.6,405.63 136.45,403.82 136.6,388.99 136.8,391.49 137.1,403.82 137.6,405.62 139.55,403.81 139.7,388.99 139.9,391.49 140.2,403.81 140.7,405.61 142.75,403.81 142.9,388.99 143.1,391.49 143.4,403.81 143.9,405.61 145.65,403.81 145.8,389 146,391.5 146.3,403.81 146.8,405.61 148.85,403.81 149,389 149.2,391.5 149.5,403.81 150,405.61 152.05,403.8 152.2,389 152.4,391.5 152.7,403.8 153.2,405.6 155.25,403.8 155.4,389 155.6,391.5 155.9,403.8 156.4,405.6 158.35,403.8 158.5,389 158.7,391.5 159,403.8 159.5,405.6 161.45,403.8 161.6,389 161.8,391.5 162.1,403.8 162.6,405.6 164.55,403.8 164.7,389 164.9,391.5 165.2,403.8 165.7,405.6 167.65,403.8 167.8,389 168,391.5 168.3,403.8 168.8,405.6 170.75,403.8 170.9,389 171.1,391.5 171.4,403.8 171.9,405.6 173.85,403.8 174,389 174.2,391.5 174.5,403.8 175,405.6 176.95,403.8 177.1,389 177.3,391.5 177.6,403.8 178.1,405.6 180.05,403.8 180.2,389 180.4,391.5 180.7,403.8 181.2,405.6 183.15,403.8 183.3,389 183.5,391.5 183.8,403.8 184.3,405.6 186.25,403.8 186.4,389 186.6,391.5 186.9,403.8 187.4,405.6 189.35,403.8 189.5,389 189.7,391.5 190,403.8 190.5,405.6 192.35,403.8 192.5,389 192.7,391.5 193,403.8 193.5,405.6 195.35,403.8 195.5,389 195.7,391.5 196,403.8 196.5,405.6 198.35,403.8 198.5,389 198.7,391.5 199,403.8 199.5,405.6 201.35,403.8 201.5,389 201.7,391.5 202,403.8 202.5,405.6 204.35,403.8 204.5,389 204.7,391.5 205,403.8 205.5,405.6 207.75,403.8 207.9,389 208.1,391.5 208.4,403.8 208.9,405.6 211.35,403.8 211.5,389 211.7,391.5 212,403.8 212.5,405.6 214.45,403.8 214.6,389 214.8,391.5 215.1,403.8 215.6,405.6 217.45,403.8 217.6,389 217.8,391.5 218.1,403.8 218.6,405.6 220.95,403.8 221.1,389 221.3,391.5 221.6,403.8 222.1,405.6 224.25,403.8 224.4,389 224.6,391.5 224.9,403.8 225.4,405.6 227.35,403.8 227.5,389 227.7,391.5 228,403.8 228.5,405.6 230.45,403.8 230.6,389 230.8,391.5 231.1,403.8 231.6,405.6 231,403.8 231.44,410.65 231.88,414.81 232.31,417.33 232.75,418.86 233.19,419.79 233.62,420.35 234.06,420.69 234.5,420.9 245.5,420.9" fill="none" stroke="#b5b5b5" stroke-width="0.75" stroke-linejoin="round"/>
<polyline points="82.3,467.5 88.6,467.5 88.9,463.75 89.55,459.1 89.7,432.2 89.9,434.7 90.2,459.1 90.7,462 91.65,458.45 91.8,434.6 92,437.1 92.3,458.45 92.8,461.35 94.15,457.98 94.3,434.6 94.5,437.1 94.8,457.98 95.3,460.88 97.25,457.65 97.4,434.6 97.6,437.1 97.9,457.65 98.4,460.55 100.75,457.41 100.9,434.6 101.1,437.1 101.4,457.41 101.9,460.31 104.15,457.23 104.3,434.6 104.5,437.1 104.8,457.23 105.3,460.13 107.55,457.11 107.7,434.6 107.9,437.1 108.2,457.11 108.7,460.01 110.85,457.02 111,434.6 111.2,437.1 111.5,457.02 112,459.92 114.45,456.96 114.6,434.6 114.8,437.1 115.1,456.96 115.6,459.86 117.95,456.91 118.1,434.6 118.3,437.1 118.6,456.91 119.1,459.81 121.55,456.88 121.7,434.6 121.9,437.1 122.2,456.88 122.7,459.78 123.22,458.78 123.74,458.2 124.26,457.7 124.78,457.26 125.25,456.86 125.4,434.6 125.6,437.1 125.9,456.86 126.4,459.76 126.92,458.76 127.44,458.18 127.96,457.68 128.48,457.25 128.95,456.84 129.1,434.6 129.3,437.1 129.6,456.84 130.1,459.74 130.64,458.75 131.18,458.16 131.72,457.67 132.26,457.23 132.75,456.83 132.9,434.6 133.1,437.1 133.4,456.83 133.9,459.73 134.42,458.74 134.94,458.15 135.46,457.66 135.98,457.22 136.45,456.82 136.6,434.6 136.8,437.1 137.1,456.82 137.6,459.72 140.05,456.82 140.2,434.6 140.4,437.1 140.7,456.82 141.2,459.72 141.74,458.72 142.28,458.14 142.82,457.65 143.36,457.21 143.85,456.81 144,434.6 144.2,437.1 144.5,456.81 145,459.71 145.54,458.72 146.08,458.14 146.62,457.65 147.16,457.21 147.65,456.81 147.8,434.6 148,437.1 148.3,456.81 148.8,459.71 149.36,458.72 149.92,458.13 150.48,457.64 151.04,457.21 151.55,456.81 151.7,434.6 151.9,437.1 152.2,456.81 152.7,459.71 153.24,458.71 153.78,458.13 154.32,457.64 154.86,457.21 155.35,456.8 155.5,434.6 155.7,437.1 156,456.8 156.5,459.7 157.06,458.71 157.62,458.13 158.18,457.64 158.74,457.2 159.25,456.8 159.4,434.6 159.6,437.1 159.9,456.8 160.4,459.7 161,458.71 161.6,458.13 162.2,457.64 162.8,457.2 163.35,456.8 163.5,434.6 163.7,437.1 164,456.8 164.5,459.7 165.08,458.71 165.66,458.13 166.24,457.64 166.82,457.2 167.35,456.8 167.5,434.6 167.7,437.1 168,456.8 168.5,459.7 169.06,458.71 169.62,458.13 170.18,457.64 170.74,457.2 171.25,456.8 171.4,434.6 171.6,437.1 171.9,456.8 172.4,459.7 172.94,458.71 173.48,458.13 174.02,457.64 174.56,457.2 175.05,456.8 175.2,434.6 175.4,437.1 175.7,456.8 176.2,459.7 176.78,458.71 177.36,458.13 177.94,457.64 178.52,457.2 179.05,456.8 179.2,434.6 179.4,437.1 179.7,456.8 180.2,459.7 180.74,458.71 181.28,458.13 181.82,457.64 182.36,457.2 182.85,456.8 183,434.6 183.2,437.1 183.5,456.8 184,459.7 184.58,458.71 185.16,458.13 185.74,457.64 186.32,457.2 186.85,456.8 187,434.6 187.2,437.1 187.5,456.8 188,459.7 188.58,458.71 189.16,458.13 189.74,457.64 190.32,457.2 190.85,456.8 191,434.6 191.2,437.1 191.5,456.8 192,459.7 192.58,458.71 193.16,458.13 193.74,457.64 194.32,457.2 194.85,456.8 195,434.6 195.2,437.1 195.5,456.8 196,459.7 196.56,458.71 197.12,458.13 197.68,457.64 198.24,457.2 198.75,456.8 198.9,434.6 199.1,437.1 199.4,456.8 199.9,459.7 200.52,458.71 201.14,458.13 201.76,457.64 202.38,457.2 202.95,456.8 203.1,434.6 203.3,437.1 203.6,456.8 204.1,459.7 204.72,458.71 205.34,458.13 205.96,457.64 206.58,457.2 207.15,456.8 207.3,434.6 207.5,437.1 207.8,456.8 208.3,459.7 208.9,458.71 209.5,458.13 210.1,457.64 210.7,457.2 211.25,456.8 211.4,434.6 211.6,437.1 211.9,456.8 212.4,459.7 213.04,458.71 213.68,458.13 214.32,457.64 214.96,457.2 215.55,456.8 215.7,434.6 215.9,437.1 216.2,456.8 216.7,459.7 217.36,458.71 218.02,458.13 218.68,457.64 219.34,457.2 219.95,456.8 220.1,434.6 220.3,437.1 220.6,456.8 221.1,459.7 221.72,458.71 222.34,458.13 222.96,457.64 223.58,457.2 224.15,456.8 224.3,434.6 224.5,437.1 224.8,456.8 225.3,459.7 225.92,458.71 226.54,458.13 227.16,457.64 227.78,457.2 228.35,456.8 228.5,434.6 228.7,437.1 229,456.8 229.5,459.7 229,456.8 229.44,461.09 229.88,463.69 230.31,465.27 230.75,466.22 231.19,466.8 231.62,467.16 232.06,467.37 232.5,467.5 245.5,467.5" fill="none" stroke="#b5b5b5" stroke-width="0.75" stroke-linejoin="round"/>
<polyline points="82.5,525.2 88.9,525.2 92.35,518.3 92.5,489.9 92.7,492.4 93,518.3 93.5,521.8 95.02,520.6 96.54,519.9 98.06,519.31 99.58,518.78 101.05,518.3 101.2,489.9 101.4,492.4 101.7,518.3 102.2,521.8 103.96,520.6 105.72,519.9 107.48,519.31 109.24,518.78 110.95,518.3 111.1,489.9 111.3,492.4 111.6,518.3 112.1,521.8 114.02,520.6 115.94,519.9 117.86,519.31 119.78,518.78 121.65,518.3 121.8,489.9 122,492.4 122.3,518.3 122.8,521.8 124.9,520.6 127,519.9 129.1,519.31 131.2,518.78 133.25,518.3 133.4,489.9 133.6,492.4 133.9,518.3 134.4,521.8 136.58,520.6 138.76,519.9 140.94,519.31 143.12,518.78 145.25,518.3 145.4,489.9 145.6,492.4 145.9,518.3 146.4,521.8 148.26,520.6 150.12,519.9 151.98,519.31 153.84,518.78 155.65,518.3 155.8,489.9 156,492.4 156.3,518.3 156.8,521.8 158.9,520.6 161,519.9 163.1,519.31 165.2,518.78 167.25,518.3 167.4,489.9 167.6,492.4 167.9,518.3 168.4,521.8 170.68,520.6 172.96,519.9 175.24,519.31 177.52,518.78 179.75,518.3 179.9,489.9 180.1,492.4 180.4,518.3 180.9,521.8 183.06,520.6 185.22,519.9 187.38,519.31 189.54,518.78 191.65,518.3 191.8,489.9 192,492.4 192.3,518.3 192.8,521.8 195.06,520.6 197.32,519.9 199.58,519.31 201.84,518.78 204.05,518.3 204.2,489.9 204.4,492.4 204.7,518.3 205.2,521.8 207.46,520.6 209.72,519.9 211.98,519.31 214.24,518.78 216.45,518.3 216.6,489.9 216.8,492.4 217.1,518.3 217.6,521.8 219.7,520.6 221.8,519.9 223.9,519.31 226,518.78 228.05,518.3 228.2,489.9 228.4,492.4 228.7,518.3 229.2,521.8 229.4,518.3 229.84,521.07 230.28,522.74 230.71,523.76 231.15,524.38 231.59,524.75 232.03,524.98 232.46,525.12 232.9,525.2 245.2,525.2" fill="none" stroke="#b5b5b5" stroke-width="0.75" stroke-linejoin="round"/>
<polyline points="290,420.6 295.9,420.6 296.2,411.15 296.25,406.2 296.4,385.2 296.6,387.7 296.9,406.2 297.4,408 298.05,405.31 298.2,387.25 298.4,389.75 298.7,405.31 299.2,407.11 299.95,404.63 300.1,387.44 300.3,389.94 300.6,404.63 301.1,406.43 301.75,404.13 301.9,387.58 302.1,390.08 302.4,404.13 302.9,405.93 303.95,403.75 304.1,387.68 304.3,390.18 304.6,403.75 305.1,405.55 306.35,403.46 306.5,387.76 306.7,390.26 307,403.46 307.5,405.26 308.55,403.25 308.7,387.82 308.9,390.32 309.2,403.25 309.7,405.05 311.65,403.09 311.8,387.86 312,390.36 312.3,403.09 312.8,404.89 314.35,402.97 314.5,387.9 314.7,390.4 315,402.97 315.5,404.77 317.15,402.88 317.3,387.92 317.5,390.42 317.8,402.88 318.3,404.68 320.25,402.81 320.4,387.94 320.6,390.44 320.9,402.81 321.4,404.61 323.25,402.76 323.4,387.96 323.6,390.46 323.9,402.76 324.4,404.56 326.05,402.72 326.2,387.97 326.4,390.47 326.7,402.72 327.2,404.52 328.85,402.69 329,387.98 329.2,390.48 329.5,402.69 330,404.49 331.84,402.67 331.99,387.98 332.19,390.48 332.49,402.67 332.99,404.47 334.82,402.65 334.97,387.99 335.17,390.49 335.47,402.65 335.97,404.45 337.81,402.64 337.96,387.99 338.16,390.49 338.46,402.64 338.96,404.44 340.79,402.63 340.94,387.99 341.14,390.49 341.44,402.63 341.94,404.43 343.78,402.62 343.93,387.99 344.13,390.49 344.43,402.62 344.93,404.42 346.77,402.62 346.92,388 347.12,390.5 347.42,402.62 347.92,404.42 349.75,402.61 349.9,388 350.1,390.5 350.4,402.61 350.9,404.41 352.74,402.61 352.89,388 353.09,390.5 353.39,402.61 353.89,404.41 355.72,402.61 355.88,388 356.07,390.5 356.38,402.61 356.88,404.41 358.71,402.61 358.86,388 359.06,390.5 359.36,402.61 359.86,404.41 361.7,402.6 361.85,388 362.05,390.5 362.35,402.6 362.85,404.4 364.68,402.6 364.83,388 365.03,390.5 365.33,402.6 365.83,404.4 367.67,402.6 367.82,388 368.02,390.5 368.32,402.6 368.82,404.4 370.66,402.6 370.81,388 371.01,390.5 371.31,402.6 371.81,404.4 373.64,402.6 373.79,388 373.99,390.5 374.29,402.6 374.79,404.4 376.63,402.6 376.78,388 376.98,390.5 377.28,402.6 377.78,404.4 379.61,402.6 379.76,388 379.96,390.5 380.26,402.6 380.76,404.4 382.6,402.6 382.75,388 382.95,390.5 383.25,402.6 383.75,404.4 385.59,402.6 385.74,388 385.94,390.5 386.24,402.6 386.74,404.4 388.57,402.6 388.72,388 388.92,390.5 389.22,402.6 389.72,404.4 391.56,402.6 391.71,388 391.91,390.5 392.21,402.6 392.71,404.4 394.54,402.6 394.69,388 394.89,390.5 395.19,402.6 395.69,404.4 397.53,402.6 397.68,388 397.88,390.5 398.18,402.6 398.68,404.4 400.52,402.6 400.67,388 400.87,390.5 401.17,402.6 401.67,404.4 403.5,402.6 403.65,388 403.85,390.5 404.15,402.6 404.65,404.4 406.49,402.6 406.64,388 406.84,390.5 407.14,402.6 407.64,404.4 409.47,402.6 409.62,388 409.82,390.5 410.12,402.6 410.62,404.4 412.46,402.6 412.61,388 412.81,390.5 413.11,402.6 413.61,404.4 415.45,402.6 415.6,388 415.8,390.5 416.1,402.6 416.6,404.4 418.43,402.6 418.58,388 418.78,390.5 419.08,402.6 419.58,404.4 421.42,402.6 421.57,388 421.77,390.5 422.07,402.6 422.57,404.4 424.41,402.6 424.56,388 424.76,390.5 425.06,402.6 425.56,404.4 427.39,402.6 427.54,388 427.74,390.5 428.04,402.6 428.54,404.4 430.38,402.6 430.53,388 430.73,390.5 431.03,402.6 431.53,404.4 433.36,402.6 433.51,388 433.71,390.5 434.01,402.6 434.51,404.4 436.35,402.6 436.5,388 436.7,390.5 437,402.6 437.5,404.4 437.2,402.6 437.64,409.81 438.07,414.19 438.51,416.84 438.95,418.45 439.39,419.43 439.82,420.02 440.26,420.38 440.7,420.6 453.7,420.6" fill="none" stroke="#e68c1e" stroke-width="0.75" stroke-linejoin="round"/>
<polyline points="289.1,467 296.5,467 296.8,461.75 297.25,458.7 297.4,432.2 297.6,434.7 297.9,458.7 298.4,461 299.39,457.93 299.54,433 299.74,435.5 300.04,457.93 300.54,460.23 301.95,457.39 302.1,433 302.3,435.5 302.6,457.39 303.1,459.69 305.11,456.99 305.26,433 305.46,435.5 305.76,456.99 306.26,459.29 308.68,456.71 308.83,433 309.03,435.5 309.33,456.71 309.83,459.01 312.16,456.51 312.31,433 312.51,435.5 312.81,456.51 313.31,458.81 315.63,456.37 315.78,433 315.98,435.5 316.28,456.37 316.78,458.67 319,456.26 319.15,433 319.35,435.5 319.65,456.26 320.15,458.56 320.66,457.75 321.18,457.27 321.69,456.87 322.21,456.52 322.67,456.19 322.82,433 323.02,435.5 323.32,456.19 323.82,458.49 326.24,456.13 326.39,433 326.59,435.5 326.89,456.13 327.39,458.43 327.91,457.63 328.42,457.17 328.94,456.77 329.45,456.42 329.92,456.1 330.07,433 330.27,435.5 330.57,456.1 331.07,458.4 331.6,457.6 332.14,457.13 332.67,456.74 333.21,456.39 333.7,456.07 333.85,433 334.05,435.5 334.35,456.07 334.85,458.37 335.38,457.58 335.92,457.11 336.45,456.72 336.99,456.37 337.47,456.05 337.62,433 337.82,435.5 338.12,456.05 338.62,458.35 339.18,457.56 339.73,457.09 340.29,456.7 340.85,456.36 341.35,456.04 341.5,433 341.7,435.5 342,456.04 342.5,458.34 343.04,457.55 343.57,457.08 344.11,456.69 344.64,456.34 345.13,456.03 345.28,433 345.48,435.5 345.78,456.03 346.28,458.33 346.79,457.54 347.31,457.07 347.83,456.68 348.34,456.34 348.81,456.02 348.96,433 349.16,435.5 349.46,456.02 349.96,458.32 350.51,457.53 351.07,457.07 351.62,456.68 352.18,456.33 352.68,456.01 352.83,433 353.03,435.5 353.33,456.01 353.83,458.31 354.39,457.53 354.95,457.06 355.5,456.67 356.06,456.33 356.56,456.01 356.71,433 356.91,435.5 357.21,456.01 357.71,458.31 358.29,457.52 358.87,457.06 359.44,456.67 360.02,456.32 360.55,456.01 360.7,433 360.9,435.5 361.2,456.01 361.7,458.31 362.25,457.52 362.81,457.06 363.36,456.67 363.92,456.32 364.42,456 364.57,433 364.77,435.5 365.07,456 365.57,458.3 366.15,457.52 366.73,457.06 367.3,456.67 367.88,456.32 368.41,456 368.56,433 368.76,435.5 369.06,456 369.56,458.3 370.17,457.52 370.79,457.05 371.41,456.67 372.02,456.32 372.59,456 372.74,433 372.94,435.5 373.24,456 373.74,458.3 374.34,457.52 374.94,457.05 375.53,456.67 376.13,456.32 376.68,456 376.83,433 377.03,435.5 377.33,456 377.83,458.3 378.4,457.52 378.98,457.05 379.55,456.67 380.13,456.32 380.66,456 380.81,433 381.01,435.5 381.31,456 381.81,458.3 382.36,457.51 382.92,457.05 383.47,456.66 384.03,456.32 384.54,456 384.69,433 384.89,435.5 385.19,456 385.69,458.3 386.28,457.51 386.88,457.05 387.48,456.66 388.07,456.32 388.62,456 388.77,433 388.97,435.5 389.27,456 389.77,458.3 390.33,457.51 390.88,457.05 391.44,456.66 391.99,456.32 392.5,456 392.65,433 392.85,435.5 393.15,456 393.65,458.3 394.25,457.51 394.84,457.05 395.44,456.66 396.04,456.32 396.58,456 396.73,433 396.93,435.5 397.23,456 397.73,458.3 398.33,457.51 398.93,457.05 399.52,456.66 400.12,456.32 400.67,456 400.82,433 401.02,435.5 401.32,456 401.82,458.3 402.41,457.51 403.01,457.05 403.61,456.66 404.2,456.32 404.75,456 404.9,433 405.1,435.5 405.4,456 405.9,458.3 406.48,457.51 407.05,457.05 407.63,456.66 408.21,456.32 408.73,456 408.88,433 409.08,435.5 409.38,456 409.88,458.3 410.52,457.51 411.16,457.05 411.79,456.66 412.43,456.32 413.02,456 413.17,433 413.37,435.5 413.67,456 414.17,458.3 414.81,457.51 415.44,457.05 416.08,456.66 416.72,456.32 417.31,456 417.46,433 417.66,435.5 417.96,456 418.46,458.3 419.07,457.51 419.69,457.05 420.31,456.66 420.93,456.32 421.49,456 421.64,433 421.84,435.5 422.14,456 422.64,458.3 423.3,457.51 423.96,457.05 424.62,456.66 425.27,456.32 425.88,456 426.03,433 426.23,435.5 426.53,456 427.03,458.3 427.71,457.51 428.39,457.05 429.07,456.66 429.75,456.32 430.37,456 430.52,433 430.72,435.5 431.02,456 431.52,458.3 432.16,457.51 432.8,457.05 433.44,456.66 434.07,456.32 434.66,456 434.81,433 435.01,435.5 435.31,456 435.81,458.3 436.45,457.51 437.09,457.05 437.72,456.66 438.36,456.32 438.95,456 439.1,433 439.3,435.5 439.6,456 440.1,458.3 439.6,456 440.04,460.41 440.48,463.08 440.91,464.71 441.35,465.69 441.79,466.29 442.23,466.65 442.66,466.87 443.1,467 452.5,467" fill="none" stroke="#e68c1e" stroke-width="0.75" stroke-linejoin="round"/>
<polyline points="290,523.5 297,523.5 300.95,517.5 301.1,489.6 301.3,492.1 301.6,517.5 302.1,520.6 303.56,519.54 305.02,518.92 306.48,518.39 307.94,517.93 309.35,517.5 309.5,489.6 309.7,492.1 310,517.5 310.5,520.6 312.26,519.54 314.02,518.92 315.78,518.39 317.54,517.93 319.25,517.5 319.4,489.6 319.6,492.1 319.9,517.5 320.4,520.6 322.36,519.54 324.32,518.92 326.28,518.39 328.24,517.93 330.15,517.5 330.3,489.6 330.5,492.1 330.8,517.5 331.3,520.6 333.28,519.54 335.26,518.92 337.24,518.39 339.22,517.93 341.15,517.5 341.3,489.6 341.5,492.1 341.8,517.5 342.3,520.6 344.48,519.54 346.66,518.92 348.84,518.39 351.02,517.93 353.15,517.5 353.3,489.6 353.5,492.1 353.8,517.5 354.3,520.6 356.42,519.54 358.54,518.92 360.66,518.39 362.78,517.93 364.85,517.5 365,489.6 365.2,492.1 365.5,517.5 366,520.6 368.12,519.54 370.24,518.92 372.36,518.39 374.48,517.93 376.55,517.5 376.7,489.6 376.9,492.1 377.2,517.5 377.7,520.6 379.88,519.54 382.06,518.92 384.24,518.39 386.42,517.93 388.55,517.5 388.7,489.6 388.9,492.1 389.2,517.5 389.7,520.6 391.9,519.54 394.1,518.92 396.3,518.39 398.5,517.93 400.65,517.5 400.8,489.6 401,492.1 401.3,517.5 401.8,520.6 403.9,519.54 406,518.92 408.1,518.39 410.2,517.93 412.25,517.5 412.4,489.6 412.6,492.1 412.9,517.5 413.4,520.6 415.6,519.54 417.8,518.92 420,518.39 422.2,517.93 424.35,517.5 424.5,489.6 424.7,492.1 425,517.5 425.5,520.6 427.62,519.54 429.74,518.92 431.86,518.39 433.98,517.93 436.05,517.5 436.2,489.6 436.4,492.1 436.7,517.5 437.2,520.6 437.5,517.5 437.94,519.9 438.38,521.36 438.81,522.25 439.25,522.78 439.69,523.11 440.12,523.31 440.56,523.43 441,523.5 453.5,523.5" fill="none" stroke="#e68c1e" stroke-width="0.75" stroke-linejoin="round"/>
<line x1="271.3" y1="440" x2="271.3" y2="467" stroke="#000" stroke-width="1.6"/>
<text x="268.3" y="468.7" font-size="12.8" fill="#000" transform="rotate(-90 268.3 468.7)" textLength="37.4" lengthAdjust="spacingAndGlyphs">50 mV</text>
<line x1="327.7" y1="410.9" x2="364.4" y2="410.9" stroke="#000" stroke-width="1.6"/>
<text x="326.4" y="425.9" font-size="12.3" fill="#000" textLength="43.8" lengthAdjust="spacingAndGlyphs">250 ms</text>
<line x1="561.2" y1="399.7" x2="561.2" y2="494.5" stroke="#000" stroke-width="1.5"/>
<line x1="555" y1="400.4" x2="561.2" y2="400.4" stroke="#000" stroke-width="1.4"/>
<line x1="555" y1="414.8" x2="561.2" y2="414.8" stroke="#000" stroke-width="1.4"/>
<line x1="555" y1="429.2" x2="561.2" y2="429.2" stroke="#000" stroke-width="1.4"/>
<line x1="555" y1="443.6" x2="561.2" y2="443.6" stroke="#000" stroke-width="1.4"/>
<line x1="555" y1="458" x2="561.2" y2="458" stroke="#000" stroke-width="1.4"/>
<line x1="555" y1="472.4" x2="561.2" y2="472.4" stroke="#000" stroke-width="1.4"/>
<line x1="555" y1="486.8" x2="561.2" y2="486.8" stroke="#000" stroke-width="1.4"/>
<line x1="560.5" y1="493.8" x2="673.5" y2="493.8" stroke="#000" stroke-width="1.5"/>
<line x1="568.7" y1="493.8" x2="568.7" y2="499.1" stroke="#000" stroke-width="1.4"/>
<line x1="582.6" y1="493.8" x2="582.6" y2="499.1" stroke="#000" stroke-width="1.4"/>
<line x1="596.5" y1="493.8" x2="596.5" y2="499.1" stroke="#000" stroke-width="1.4"/>
<line x1="610.4" y1="493.8" x2="610.4" y2="499.1" stroke="#000" stroke-width="1.4"/>
<line x1="624.3" y1="493.8" x2="624.3" y2="499.1" stroke="#000" stroke-width="1.4"/>
<line x1="638.2" y1="493.8" x2="638.2" y2="499.1" stroke="#000" stroke-width="1.4"/>
<line x1="652.1" y1="493.8" x2="652.1" y2="499.1" stroke="#000" stroke-width="1.4"/>
<line x1="666" y1="493.8" x2="666" y2="499.1" stroke="#000" stroke-width="1.4"/>
<text x="551.9" y="405.7" font-size="12.6" fill="#000" text-anchor="end">60</text>
<text x="551.9" y="491.8" font-size="12.6" fill="#000" text-anchor="end">0</text>
<text x="568.7" y="513.6" font-size="12.2" fill="#000" text-anchor="middle">0</text>
<text x="666.5" y="513.6" font-size="12.2" fill="#000" text-anchor="middle">350</text>
<text x="580.6" y="516.4" font-size="11.6" fill="#000" textLength="65" lengthAdjust="spacingAndGlyphs">Current (pA)</text>
<text transform="translate(530.7 459.9) rotate(-90)"><tspan font-size="11.5" dy="0">Firing</tspan></text>
<text transform="translate(541.5 487.5) rotate(-90)"><tspan font-size="11.7" dy="0">Frequeny (Hz)</tspan></text>
<polyline points="568.7,486.8 575.65,483.4 582.6,472 589.55,460.2 596.5,447.9 603.45,437.8 610.4,429.8 617.35,424.2 624.3,419.4 631.25,416.2 638.2,413.1 645.15,412.4 652.1,411.3 659.05,411.8 666,419.4" fill="none" stroke="#a9a9a9" stroke-width="0.95" stroke-linejoin="round"/>
<line x1="575.65" y1="482.4" x2="575.65" y2="484.4" stroke="#a9a9a9" stroke-width="0.9"/>
<line x1="574.15" y1="482.4" x2="577.15" y2="482.4" stroke="#a9a9a9" stroke-width="0.9"/>
<line x1="574.15" y1="484.4" x2="577.15" y2="484.4" stroke="#a9a9a9" stroke-width="0.9"/>
<line x1="582.6" y1="469.5" x2="582.6" y2="474.5" stroke="#a9a9a9" stroke-width="0.9"/>
<line x1="581.1" y1="469.5" x2="584.1" y2="469.5" stroke="#a9a9a9" stroke-width="0.9"/>
<line x1="581.1" y1="474.5" x2="584.1" y2="474.5" stroke="#a9a9a9" stroke-width="0.9"/>
<line x1="589.55" y1="457.4" x2="589.55" y2="463" stroke="#a9a9a9" stroke-width="0.9"/>
<line x1="588.05" y1="457.4" x2="591.05" y2="457.4" stroke="#a9a9a9" stroke-width="0.9"/>
<line x1="588.05" y1="463" x2="591.05" y2="463" stroke="#a9a9a9" stroke-width="0.9"/>
<line x1="596.5" y1="444.9" x2="596.5" y2="450.9" stroke="#a9a9a9" stroke-width="0.9"/>
<line x1="595" y1="444.9" x2="598" y2="444.9" stroke="#a9a9a9" stroke-width="0.9"/>
<line x1="595" y1="450.9" x2="598" y2="450.9" stroke="#a9a9a9" stroke-width="0.9"/>
<line x1="603.45" y1="434.8" x2="603.45" y2="440.8" stroke="#a9a9a9" stroke-width="0.9"/>
<line x1="601.95" y1="434.8" x2="604.95" y2="434.8" stroke="#a9a9a9" stroke-width="0.9"/>
<line x1="601.95" y1="440.8" x2="604.95" y2="440.8" stroke="#a9a9a9" stroke-width="0.9"/>
<line x1="610.4" y1="426.8" x2="610.4" y2="432.8" stroke="#a9a9a9" stroke-width="0.9"/>
<line x1="608.9" y1="426.8" x2="611.9" y2="426.8" stroke="#a9a9a9" stroke-width="0.9"/>
<line x1="608.9" y1="432.8" x2="611.9" y2="432.8" stroke="#a9a9a9" stroke-width="0.9"/>
<line x1="617.35" y1="421.2" x2="617.35" y2="427.2" stroke="#a9a9a9" stroke-width="0.9"/>
<line x1="615.85" y1="421.2" x2="618.85" y2="421.2" stroke="#a9a9a9" stroke-width="0.9"/>
<line x1="615.85" y1="427.2" x2="618.85" y2="427.2" stroke="#a9a9a9" stroke-width="0.9"/>
<line x1="624.3" y1="416.4" x2="624.3" y2="422.4" stroke="#a9a9a9" stroke-width="0.9"/>
<line x1="622.8" y1="416.4" x2="625.8" y2="416.4" stroke="#a9a9a9" stroke-width="0.9"/>
<line x1="622.8" y1="422.4" x2="625.8" y2="422.4" stroke="#a9a9a9" stroke-width="0.9"/>
<line x1="631.25" y1="413.2" x2="631.25" y2="419.2" stroke="#a9a9a9" stroke-width="0.9"/>
<line x1="629.75" y1="413.2" x2="632.75" y2="413.2" stroke="#a9a9a9" stroke-width="0.9"/>
<line x1="629.75" y1="419.2" x2="632.75" y2="419.2" stroke="#a9a9a9" stroke-width="0.9"/>
<line x1="638.2" y1="410.1" x2="638.2" y2="416.1" stroke="#a9a9a9" stroke-width="0.9"/>
<line x1="636.7" y1="410.1" x2="639.7" y2="410.1" stroke="#a9a9a9" stroke-width="0.9"/>
<line x1="636.7" y1="416.1" x2="639.7" y2="416.1" stroke="#a9a9a9" stroke-width="0.9"/>
<line x1="645.15" y1="409.4" x2="645.15" y2="415.4" stroke="#a9a9a9" stroke-width="0.9"/>
<line x1="643.65" y1="409.4" x2="646.65" y2="409.4" stroke="#a9a9a9" stroke-width="0.9"/>
<line x1="643.65" y1="415.4" x2="646.65" y2="415.4" stroke="#a9a9a9" stroke-width="0.9"/>
<line x1="652.1" y1="407.5" x2="652.1" y2="415.1" stroke="#a9a9a9" stroke-width="0.9"/>
<line x1="650.6" y1="407.5" x2="653.6" y2="407.5" stroke="#a9a9a9" stroke-width="0.9"/>
<line x1="650.6" y1="415.1" x2="653.6" y2="415.1" stroke="#a9a9a9" stroke-width="0.9"/>
<line x1="659.05" y1="407.3" x2="659.05" y2="416.3" stroke="#a9a9a9" stroke-width="0.9"/>
<line x1="657.55" y1="407.3" x2="660.55" y2="407.3" stroke="#a9a9a9" stroke-width="0.9"/>
<line x1="657.55" y1="416.3" x2="660.55" y2="416.3" stroke="#a9a9a9" stroke-width="0.9"/>
<line x1="666" y1="414.6" x2="666" y2="424.2" stroke="#a9a9a9" stroke-width="0.9"/>
<line x1="664.5" y1="414.6" x2="667.5" y2="414.6" stroke="#a9a9a9" stroke-width="0.9"/>
<line x1="664.5" y1="424.2" x2="667.5" y2="424.2" stroke="#a9a9a9" stroke-width="0.9"/>
<circle cx="568.7" cy="486.8" r="1.95" fill="#fff" stroke="#a9a9a9" stroke-width="0.95"/>
<circle cx="575.65" cy="483.4" r="1.95" fill="#fff" stroke="#a9a9a9" stroke-width="0.95"/>
<circle cx="582.6" cy="472" r="1.95" fill="#fff" stroke="#a9a9a9" stroke-width="0.95"/>
<circle cx="589.55" cy="460.2" r="1.95" fill="#fff" stroke="#a9a9a9" stroke-width="0.95"/>
<circle cx="596.5" cy="447.9" r="1.95" fill="#fff" stroke="#a9a9a9" stroke-width="0.95"/>
<circle cx="603.45" cy="437.8" r="1.95" fill="#fff" stroke="#a9a9a9" stroke-width="0.95"/>
<circle cx="610.4" cy="429.8" r="1.95" fill="#fff" stroke="#a9a9a9" stroke-width="0.95"/>
<circle cx="617.35" cy="424.2" r="1.95" fill="#fff" stroke="#a9a9a9" stroke-width="0.95"/>
<circle cx="624.3" cy="419.4" r="1.95" fill="#fff" stroke="#a9a9a9" stroke-width="0.95"/>
<circle cx="631.25" cy="416.2" r="1.95" fill="#fff" stroke="#a9a9a9" stroke-width="0.95"/>
<circle cx="638.2" cy="413.1" r="1.95" fill="#fff" stroke="#a9a9a9" stroke-width="0.95"/>
<circle cx="645.15" cy="412.4" r="1.95" fill="#fff" stroke="#a9a9a9" stroke-width="0.95"/>
<circle cx="652.1" cy="411.3" r="1.95" fill="#fff" stroke="#a9a9a9" stroke-width="0.95"/>
<circle cx="659.05" cy="411.8" r="1.95" fill="#fff" stroke="#a9a9a9" stroke-width="0.95"/>
<circle cx="666" cy="419.4" r="1.95" fill="#fff" stroke="#a9a9a9" stroke-width="0.95"/>
<polyline points="568.7,486.8 575.65,484.9 582.6,477.3 589.55,465.9 596.5,453.6 603.45,443.1 610.4,434 617.35,427 624.3,421.3 631.25,417.5 638.2,414.3 645.15,412.8 652.1,410.9 659.05,409.4 666,409.4" fill="none" stroke="#e2820e" stroke-width="0.95" stroke-linejoin="round"/>
<line x1="575.65" y1="483.9" x2="575.65" y2="485.9" stroke="#e2820e" stroke-width="0.9"/>
<line x1="574.15" y1="483.9" x2="577.15" y2="483.9" stroke="#e2820e" stroke-width="0.9"/>
<line x1="574.15" y1="485.9" x2="577.15" y2="485.9" stroke="#e2820e" stroke-width="0.9"/>
<line x1="582.6" y1="474.8" x2="582.6" y2="479.8" stroke="#e2820e" stroke-width="0.9"/>
<line x1="581.1" y1="474.8" x2="584.1" y2="474.8" stroke="#e2820e" stroke-width="0.9"/>
<line x1="581.1" y1="479.8" x2="584.1" y2="479.8" stroke="#e2820e" stroke-width="0.9"/>
<line x1="589.55" y1="463.1" x2="589.55" y2="468.7" stroke="#e2820e" stroke-width="0.9"/>
<line x1="588.05" y1="463.1" x2="591.05" y2="463.1" stroke="#e2820e" stroke-width="0.9"/>
<line x1="588.05" y1="468.7" x2="591.05" y2="468.7" stroke="#e2820e" stroke-width="0.9"/>
<line x1="596.5" y1="450.6" x2="596.5" y2="456.6" stroke="#e2820e" stroke-width="0.9"/>
<line x1="595" y1="450.6" x2="598" y2="450.6" stroke="#e2820e" stroke-width="0.9"/>
<line x1="595" y1="456.6" x2="598" y2="456.6" stroke="#e2820e" stroke-width="0.9"/>
<line x1="603.45" y1="440.1" x2="603.45" y2="446.1" stroke="#e2820e" stroke-width="0.9"/>
<line x1="601.95" y1="440.1" x2="604.95" y2="440.1" stroke="#e2820e" stroke-width="0.9"/>
<line x1="601.95" y1="446.1" x2="604.95" y2="446.1" stroke="#e2820e" stroke-width="0.9"/>
<line x1="610.4" y1="431" x2="610.4" y2="437" stroke="#e2820e" stroke-width="0.9"/>
<line x1="608.9" y1="431" x2="611.9" y2="431" stroke="#e2820e" stroke-width="0.9"/>
<line x1="608.9" y1="437" x2="611.9" y2="437" stroke="#e2820e" stroke-width="0.9"/>
<line x1="617.35" y1="424" x2="617.35" y2="430" stroke="#e2820e" stroke-width="0.9"/>
<line x1="615.85" y1="424" x2="618.85" y2="424" stroke="#e2820e" stroke-width="0.9"/>
<line x1="615.85" y1="430" x2="618.85" y2="430" stroke="#e2820e" stroke-width="0.9"/>
<line x1="624.3" y1="418.3" x2="624.3" y2="424.3" stroke="#e2820e" stroke-width="0.9"/>
<line x1="622.8" y1="418.3" x2="625.8" y2="418.3" stroke="#e2820e" stroke-width="0.9"/>
<line x1="622.8" y1="424.3" x2="625.8" y2="424.3" stroke="#e2820e" stroke-width="0.9"/>
<line x1="631.25" y1="414.5" x2="631.25" y2="420.5" stroke="#e2820e" stroke-width="0.9"/>
<line x1="629.75" y1="414.5" x2="632.75" y2="414.5" stroke="#e2820e" stroke-width="0.9"/>
<line x1="629.75" y1="420.5" x2="632.75" y2="420.5" stroke="#e2820e" stroke-width="0.9"/>
<line x1="638.2" y1="411.3" x2="638.2" y2="417.3" stroke="#e2820e" stroke-width="0.9"/>
<line x1="636.7" y1="411.3" x2="639.7" y2="411.3" stroke="#e2820e" stroke-width="0.9"/>
<line x1="636.7" y1="417.3" x2="639.7" y2="417.3" stroke="#e2820e" stroke-width="0.9"/>
<line x1="645.15" y1="409.8" x2="645.15" y2="415.8" stroke="#e2820e" stroke-width="0.9"/>
<line x1="643.65" y1="409.8" x2="646.65" y2="409.8" stroke="#e2820e" stroke-width="0.9"/>
<line x1="643.65" y1="415.8" x2="646.65" y2="415.8" stroke="#e2820e" stroke-width="0.9"/>
<line x1="652.1" y1="407.1" x2="652.1" y2="414.7" stroke="#e2820e" stroke-width="0.9"/>
<line x1="650.6" y1="407.1" x2="653.6" y2="407.1" stroke="#e2820e" stroke-width="0.9"/>
<line x1="650.6" y1="414.7" x2="653.6" y2="414.7" stroke="#e2820e" stroke-width="0.9"/>
<line x1="659.05" y1="403.9" x2="659.05" y2="414.9" stroke="#e2820e" stroke-width="0.9"/>
<line x1="657.55" y1="403.9" x2="660.55" y2="403.9" stroke="#e2820e" stroke-width="0.9"/>
<line x1="657.55" y1="414.9" x2="660.55" y2="414.9" stroke="#e2820e" stroke-width="0.9"/>
<line x1="666" y1="403.2" x2="666" y2="415.6" stroke="#e2820e" stroke-width="0.9"/>
<line x1="664.5" y1="403.2" x2="667.5" y2="403.2" stroke="#e2820e" stroke-width="0.9"/>
<line x1="664.5" y1="415.6" x2="667.5" y2="415.6" stroke="#e2820e" stroke-width="0.9"/>
<circle cx="568.7" cy="486.8" r="1.95" fill="#fff" stroke="#e2820e" stroke-width="0.95"/>
<circle cx="575.65" cy="484.9" r="1.95" fill="#fff" stroke="#e2820e" stroke-width="0.95"/>
<circle cx="582.6" cy="477.3" r="1.95" fill="#fff" stroke="#e2820e" stroke-width="0.95"/>
<circle cx="589.55" cy="465.9" r="1.95" fill="#fff" stroke="#e2820e" stroke-width="0.95"/>
<circle cx="596.5" cy="453.6" r="1.95" fill="#fff" stroke="#e2820e" stroke-width="0.95"/>
<circle cx="603.45" cy="443.1" r="1.95" fill="#fff" stroke="#e2820e" stroke-width="0.95"/>
<circle cx="610.4" cy="434" r="1.95" fill="#fff" stroke="#e2820e" stroke-width="0.95"/>
<circle cx="617.35" cy="427" r="1.95" fill="#fff" stroke="#e2820e" stroke-width="0.95"/>
<circle cx="624.3" cy="421.3" r="1.95" fill="#fff" stroke="#e2820e" stroke-width="0.95"/>
<circle cx="631.25" cy="417.5" r="1.95" fill="#fff" stroke="#e2820e" stroke-width="0.95"/>
<circle cx="638.2" cy="414.3" r="1.95" fill="#fff" stroke="#e2820e" stroke-width="0.95"/>
<circle cx="645.15" cy="412.8" r="1.95" fill="#fff" stroke="#e2820e" stroke-width="0.95"/>
<circle cx="652.1" cy="410.9" r="1.95" fill="#fff" stroke="#e2820e" stroke-width="0.95"/>
<circle cx="659.05" cy="409.4" r="1.95" fill="#fff" stroke="#e2820e" stroke-width="0.95"/>
<circle cx="666" cy="409.4" r="1.95" fill="#fff" stroke="#e2820e" stroke-width="0.95"/>
<text x="618.8" y="444" font-size="10.2" fill="#a9a9a9" font-weight="bold" font-style="italic" transform="translate(0 -35.52) scale(1 1.08)" stroke="#a9a9a9" stroke-width="0.25" textLength="26.2" lengthAdjust="spacingAndGlyphs">SE d1</text>
<text x="617.4" y="456.8" font-size="10.2" fill="#e2820e" font-weight="bold" font-style="italic" transform="translate(0 -36.54) scale(1 1.08)" stroke="#e2820e" stroke-width="0.25" textLength="27.6" lengthAdjust="spacingAndGlyphs">NE d1</text>
<line x1="95.2" y1="590.5" x2="95.2" y2="684.9" stroke="#000" stroke-width="1.5"/>
<line x1="89" y1="591.2" x2="95.2" y2="591.2" stroke="#000" stroke-width="1.4"/>
<line x1="89" y1="605.55" x2="95.2" y2="605.55" stroke="#000" stroke-width="1.4"/>
<line x1="89" y1="619.9" x2="95.2" y2="619.9" stroke="#000" stroke-width="1.4"/>
<line x1="89" y1="634.25" x2="95.2" y2="634.25" stroke="#000" stroke-width="1.4"/>
<line x1="89" y1="648.6" x2="95.2" y2="648.6" stroke="#000" stroke-width="1.4"/>
<line x1="89" y1="662.95" x2="95.2" y2="662.95" stroke="#000" stroke-width="1.4"/>
<line x1="89" y1="677.3" x2="95.2" y2="677.3" stroke="#000" stroke-width="1.4"/>
<line x1="94.5" y1="684.2" x2="208.5" y2="684.2" stroke="#000" stroke-width="1.5"/>
<line x1="102.9" y1="684.2" x2="102.9" y2="689.5" stroke="#000" stroke-width="1.4"/>
<line x1="116.83" y1="684.2" x2="116.83" y2="689.5" stroke="#000" stroke-width="1.4"/>
<line x1="130.76" y1="684.2" x2="130.76" y2="689.5" stroke="#000" stroke-width="1.4"/>
<line x1="144.69" y1="684.2" x2="144.69" y2="689.5" stroke="#000" stroke-width="1.4"/>
<line x1="158.62" y1="684.2" x2="158.62" y2="689.5" stroke="#000" stroke-width="1.4"/>
<line x1="172.55" y1="684.2" x2="172.55" y2="689.5" stroke="#000" stroke-width="1.4"/>
<line x1="186.48" y1="684.2" x2="186.48" y2="689.5" stroke="#000" stroke-width="1.4"/>
<line x1="200.41" y1="684.2" x2="200.41" y2="689.5" stroke="#000" stroke-width="1.4"/>
<text x="85.9" y="596.5" font-size="12.6" fill="#000" text-anchor="end">60</text>
<text x="85.9" y="682.3" font-size="12.6" fill="#000" text-anchor="end">0</text>
<text x="102.9" y="704" font-size="12.2" fill="#000" text-anchor="middle">0</text>
<text x="200.91" y="704" font-size="12.2" fill="#000" text-anchor="middle">350</text>
<text x="116.8" y="706.8" font-size="11.6" fill="#000" textLength="65" lengthAdjust="spacingAndGlyphs">Current (pA)</text>
<text transform="translate(61.8 647.1) rotate(-90)"><tspan font-size="11.5" dy="0">Firing</tspan></text>
<text transform="translate(76 678.1) rotate(-90)"><tspan font-size="11.7" dy="0">Frequeny (Hz)</tspan></text>
<polyline points="102.9,677.3 109.87,674.6 116.83,666.9 123.8,655 130.76,643.6 137.73,634.6 144.69,626 151.66,620.2 158.62,615.2 165.59,612.6 172.55,611 179.51,610.5 186.48,611.2 193.44,612.3 200.41,614" fill="none" stroke="#a9a9a9" stroke-width="0.95" stroke-linejoin="round"/>
<line x1="109.87" y1="673.6" x2="109.87" y2="675.6" stroke="#a9a9a9" stroke-width="0.9"/>
<line x1="108.37" y1="673.6" x2="111.37" y2="673.6" stroke="#a9a9a9" stroke-width="0.9"/>
<line x1="108.37" y1="675.6" x2="111.37" y2="675.6" stroke="#a9a9a9" stroke-width="0.9"/>
<line x1="116.83" y1="665.1" x2="116.83" y2="668.7" stroke="#a9a9a9" stroke-width="0.9"/>
<line x1="115.33" y1="665.1" x2="118.33" y2="665.1" stroke="#a9a9a9" stroke-width="0.9"/>
<line x1="115.33" y1="668.7" x2="118.33" y2="668.7" stroke="#a9a9a9" stroke-width="0.9"/>
<line x1="123.8" y1="652.5" x2="123.8" y2="657.5" stroke="#a9a9a9" stroke-width="0.9"/>
<line x1="122.3" y1="652.5" x2="125.3" y2="652.5" stroke="#a9a9a9" stroke-width="0.9"/>
<line x1="122.3" y1="657.5" x2="125.3" y2="657.5" stroke="#a9a9a9" stroke-width="0.9"/>
<line x1="130.76" y1="640.6" x2="130.76" y2="646.6" stroke="#a9a9a9" stroke-width="0.9"/>
<line x1="129.26" y1="640.6" x2="132.26" y2="640.6" stroke="#a9a9a9" stroke-width="0.9"/>
<line x1="129.26" y1="646.6" x2="132.26" y2="646.6" stroke="#a9a9a9" stroke-width="0.9"/>
<line x1="137.73" y1="631.6" x2="137.73" y2="637.6" stroke="#a9a9a9" stroke-width="0.9"/>
<line x1="136.23" y1="631.6" x2="139.23" y2="631.6" stroke="#a9a9a9" stroke-width="0.9"/>
<line x1="136.23" y1="637.6" x2="139.23" y2="637.6" stroke="#a9a9a9" stroke-width="0.9"/>
<line x1="144.69" y1="623" x2="144.69" y2="629" stroke="#a9a9a9" stroke-width="0.9"/>
<line x1="143.19" y1="623" x2="146.19" y2="623" stroke="#a9a9a9" stroke-width="0.9"/>
<line x1="143.19" y1="629" x2="146.19" y2="629" stroke="#a9a9a9" stroke-width="0.9"/>
<line x1="151.66" y1="617.2" x2="151.66" y2="623.2" stroke="#a9a9a9" stroke-width="0.9"/>
<line x1="150.16" y1="617.2" x2="153.16" y2="617.2" stroke="#a9a9a9" stroke-width="0.9"/>
<line x1="150.16" y1="623.2" x2="153.16" y2="623.2" stroke="#a9a9a9" stroke-width="0.9"/>
<line x1="158.62" y1="611.7" x2="158.62" y2="618.7" stroke="#a9a9a9" stroke-width="0.9"/>
<line x1="157.12" y1="611.7" x2="160.12" y2="611.7" stroke="#a9a9a9" stroke-width="0.9"/>
<line x1="157.12" y1="618.7" x2="160.12" y2="618.7" stroke="#a9a9a9" stroke-width="0.9"/>
<line x1="165.59" y1="608.6" x2="165.59" y2="616.6" stroke="#a9a9a9" stroke-width="0.9"/>
<line x1="164.09" y1="608.6" x2="167.09" y2="608.6" stroke="#a9a9a9" stroke-width="0.9"/>
<line x1="164.09" y1="616.6" x2="167.09" y2="616.6" stroke="#a9a9a9" stroke-width="0.9"/>
<line x1="172.55" y1="606.5" x2="172.55" y2="615.5" stroke="#a9a9a9" stroke-width="0.9"/>
<line x1="171.05" y1="606.5" x2="174.05" y2="606.5" stroke="#a9a9a9" stroke-width="0.9"/>
<line x1="171.05" y1="615.5" x2="174.05" y2="615.5" stroke="#a9a9a9" stroke-width="0.9"/>
<line x1="179.51" y1="605.5" x2="179.51" y2="615.5" stroke="#a9a9a9" stroke-width="0.9"/>
<line x1="178.01" y1="605.5" x2="181.01" y2="605.5" stroke="#a9a9a9" stroke-width="0.9"/>
<line x1="178.01" y1="615.5" x2="181.01" y2="615.5" stroke="#a9a9a9" stroke-width="0.9"/>
<line x1="186.48" y1="604.7" x2="186.48" y2="617.7" stroke="#a9a9a9" stroke-width="0.9"/>
<line x1="184.98" y1="604.7" x2="187.98" y2="604.7" stroke="#a9a9a9" stroke-width="0.9"/>
<line x1="184.98" y1="617.7" x2="187.98" y2="617.7" stroke="#a9a9a9" stroke-width="0.9"/>
<line x1="193.44" y1="604.3" x2="193.44" y2="620.3" stroke="#a9a9a9" stroke-width="0.9"/>
<line x1="191.94" y1="604.3" x2="194.94" y2="604.3" stroke="#a9a9a9" stroke-width="0.9"/>
<line x1="191.94" y1="620.3" x2="194.94" y2="620.3" stroke="#a9a9a9" stroke-width="0.9"/>
<line x1="200.41" y1="605.5" x2="200.41" y2="622.5" stroke="#a9a9a9" stroke-width="0.9"/>
<line x1="198.91" y1="605.5" x2="201.91" y2="605.5" stroke="#a9a9a9" stroke-width="0.9"/>
<line x1="198.91" y1="622.5" x2="201.91" y2="622.5" stroke="#a9a9a9" stroke-width="0.9"/>
<circle cx="102.9" cy="677.3" r="1.95" fill="#fff" stroke="#a9a9a9" stroke-width="0.95"/>
<circle cx="109.87" cy="674.6" r="1.95" fill="#fff" stroke="#a9a9a9" stroke-width="0.95"/>
<circle cx="116.83" cy="666.9" r="1.95" fill="#fff" stroke="#a9a9a9" stroke-width="0.95"/>
<circle cx="123.8" cy="655" r="1.95" fill="#fff" stroke="#a9a9a9" stroke-width="0.95"/>
<circle cx="130.76" cy="643.6" r="1.95" fill="#fff" stroke="#a9a9a9" stroke-width="0.95"/>
<circle cx="137.73" cy="634.6" r="1.95" fill="#fff" stroke="#a9a9a9" stroke-width="0.95"/>
<circle cx="144.69" cy="626" r="1.95" fill="#fff" stroke="#a9a9a9" stroke-width="0.95"/>
<circle cx="151.66" cy="620.2" r="1.95" fill="#fff" stroke="#a9a9a9" stroke-width="0.95"/>
<circle cx="158.62" cy="615.2" r="1.95" fill="#fff" stroke="#a9a9a9" stroke-width="0.95"/>
<circle cx="165.59" cy="612.6" r="1.95" fill="#fff" stroke="#a9a9a9" stroke-width="0.95"/>
<circle cx="172.55" cy="611" r="1.95" fill="#fff" stroke="#a9a9a9" stroke-width="0.95"/>
<circle cx="179.51" cy="610.5" r="1.95" fill="#fff" stroke="#a9a9a9" stroke-width="0.95"/>
<circle cx="186.48" cy="611.2" r="1.95" fill="#fff" stroke="#a9a9a9" stroke-width="0.95"/>
<circle cx="193.44" cy="612.3" r="1.95" fill="#fff" stroke="#a9a9a9" stroke-width="0.95"/>
<circle cx="200.41" cy="614" r="1.95" fill="#fff" stroke="#a9a9a9" stroke-width="0.95"/>
<polyline points="102.9,677.3 109.87,674.9 116.83,667.3 123.8,655.5 130.76,644.5 137.73,635.4 144.69,626.5 151.66,620.8 158.62,615.7 165.59,612.6 172.55,610.4 179.51,610 186.48,611.9 193.44,613.8 200.41,615.1" fill="none" stroke="#e2820e" stroke-width="0.95" stroke-linejoin="round"/>
<line x1="109.87" y1="673.9" x2="109.87" y2="675.9" stroke="#e2820e" stroke-width="0.9"/>
<line x1="108.37" y1="673.9" x2="111.37" y2="673.9" stroke="#e2820e" stroke-width="0.9"/>
<line x1="108.37" y1="675.9" x2="111.37" y2="675.9" stroke="#e2820e" stroke-width="0.9"/>
<line x1="116.83" y1="665.5" x2="116.83" y2="669.1" stroke="#e2820e" stroke-width="0.9"/>
<line x1="115.33" y1="665.5" x2="118.33" y2="665.5" stroke="#e2820e" stroke-width="0.9"/>
<line x1="115.33" y1="669.1" x2="118.33" y2="669.1" stroke="#e2820e" stroke-width="0.9"/>
<line x1="123.8" y1="653" x2="123.8" y2="658" stroke="#e2820e" stroke-width="0.9"/>
<line x1="122.3" y1="653" x2="125.3" y2="653" stroke="#e2820e" stroke-width="0.9"/>
<line x1="122.3" y1="658" x2="125.3" y2="658" stroke="#e2820e" stroke-width="0.9"/>
<line x1="130.76" y1="641.5" x2="130.76" y2="647.5" stroke="#e2820e" stroke-width="0.9"/>
<line x1="129.26" y1="641.5" x2="132.26" y2="641.5" stroke="#e2820e" stroke-width="0.9"/>
<line x1="129.26" y1="647.5" x2="132.26" y2="647.5" stroke="#e2820e" stroke-width="0.9"/>
<line x1="137.73" y1="632.4" x2="137.73" y2="638.4" stroke="#e2820e" stroke-width="0.9"/>
<line x1="136.23" y1="632.4" x2="139.23" y2="632.4" stroke="#e2820e" stroke-width="0.9"/>
<line x1="136.23" y1="638.4" x2="139.23" y2="638.4" stroke="#e2820e" stroke-width="0.9"/>
<line x1="144.69" y1="623.5" x2="144.69" y2="629.5" stroke="#e2820e" stroke-width="0.9"/>
<line x1="143.19" y1="623.5" x2="146.19" y2="623.5" stroke="#e2820e" stroke-width="0.9"/>
<line x1="143.19" y1="629.5" x2="146.19" y2="629.5" stroke="#e2820e" stroke-width="0.9"/>
<line x1="151.66" y1="617.8" x2="151.66" y2="623.8" stroke="#e2820e" stroke-width="0.9"/>
<line x1="150.16" y1="617.8" x2="153.16" y2="617.8" stroke="#e2820e" stroke-width="0.9"/>
<line x1="150.16" y1="623.8" x2="153.16" y2="623.8" stroke="#e2820e" stroke-width="0.9"/>
<line x1="158.62" y1="612.2" x2="158.62" y2="619.2" stroke="#e2820e" stroke-width="0.9"/>
<line x1="157.12" y1="612.2" x2="160.12" y2="612.2" stroke="#e2820e" stroke-width="0.9"/>
<line x1="157.12" y1="619.2" x2="160.12" y2="619.2" stroke="#e2820e" stroke-width="0.9"/>
<line x1="165.59" y1="608.6" x2="165.59" y2="616.6" stroke="#e2820e" stroke-width="0.9"/>
<line x1="164.09" y1="608.6" x2="167.09" y2="608.6" stroke="#e2820e" stroke-width="0.9"/>
<line x1="164.09" y1="616.6" x2="167.09" y2="616.6" stroke="#e2820e" stroke-width="0.9"/>
<line x1="172.55" y1="605.9" x2="172.55" y2="614.9" stroke="#e2820e" stroke-width="0.9"/>
<line x1="171.05" y1="605.9" x2="174.05" y2="605.9" stroke="#e2820e" stroke-width="0.9"/>
<line x1="171.05" y1="614.9" x2="174.05" y2="614.9" stroke="#e2820e" stroke-width="0.9"/>
<line x1="179.51" y1="604.8" x2="179.51" y2="615.2" stroke="#e2820e" stroke-width="0.9"/>
<line x1="178.01" y1="604.8" x2="181.01" y2="604.8" stroke="#e2820e" stroke-width="0.9"/>
<line x1="178.01" y1="615.2" x2="181.01" y2="615.2" stroke="#e2820e" stroke-width="0.9"/>
<line x1="186.48" y1="604.9" x2="186.48" y2="618.9" stroke="#e2820e" stroke-width="0.9"/>
<line x1="184.98" y1="604.9" x2="187.98" y2="604.9" stroke="#e2820e" stroke-width="0.9"/>
<line x1="184.98" y1="618.9" x2="187.98" y2="618.9" stroke="#e2820e" stroke-width="0.9"/>
<line x1="193.44" y1="606.3" x2="193.44" y2="621.3" stroke="#e2820e" stroke-width="0.9"/>
<line x1="191.94" y1="606.3" x2="194.94" y2="606.3" stroke="#e2820e" stroke-width="0.9"/>
<line x1="191.94" y1="621.3" x2="194.94" y2="621.3" stroke="#e2820e" stroke-width="0.9"/>
<line x1="200.41" y1="606.6" x2="200.41" y2="623.6" stroke="#e2820e" stroke-width="0.9"/>
<line x1="198.91" y1="606.6" x2="201.91" y2="606.6" stroke="#e2820e" stroke-width="0.9"/>
<line x1="198.91" y1="623.6" x2="201.91" y2="623.6" stroke="#e2820e" stroke-width="0.9"/>
<circle cx="102.9" cy="677.3" r="1.95" fill="#fff" stroke="#e2820e" stroke-width="0.95"/>
<circle cx="109.87" cy="674.9" r="1.95" fill="#fff" stroke="#e2820e" stroke-width="0.95"/>
<circle cx="116.83" cy="667.3" r="1.95" fill="#fff" stroke="#e2820e" stroke-width="0.95"/>
<circle cx="123.8" cy="655.5" r="1.95" fill="#fff" stroke="#e2820e" stroke-width="0.95"/>
<circle cx="130.76" cy="644.5" r="1.95" fill="#fff" stroke="#e2820e" stroke-width="0.95"/>
<circle cx="137.73" cy="635.4" r="1.95" fill="#fff" stroke="#e2820e" stroke-width="0.95"/>
<circle cx="144.69" cy="626.5" r="1.95" fill="#fff" stroke="#e2820e" stroke-width="0.95"/>
<circle cx="151.66" cy="620.8" r="1.95" fill="#fff" stroke="#e2820e" stroke-width="0.95"/>
<circle cx="158.62" cy="615.7" r="1.95" fill="#fff" stroke="#e2820e" stroke-width="0.95"/>
<circle cx="165.59" cy="612.6" r="1.95" fill="#fff" stroke="#e2820e" stroke-width="0.95"/>
<circle cx="172.55" cy="610.4" r="1.95" fill="#fff" stroke="#e2820e" stroke-width="0.95"/>
<circle cx="179.51" cy="610" r="1.95" fill="#fff" stroke="#e2820e" stroke-width="0.95"/>
<circle cx="186.48" cy="611.9" r="1.95" fill="#fff" stroke="#e2820e" stroke-width="0.95"/>
<circle cx="193.44" cy="613.8" r="1.95" fill="#fff" stroke="#e2820e" stroke-width="0.95"/>
<circle cx="200.41" cy="615.1" r="1.95" fill="#fff" stroke="#e2820e" stroke-width="0.95"/>
<text x="155.5" y="640.6" font-size="10.2" fill="#a9a9a9" font-weight="bold" font-style="italic" transform="translate(0 -38.44) scale(1 1.06)" stroke="#a9a9a9" stroke-width="0.25" textLength="32.4" lengthAdjust="spacingAndGlyphs">SE d10</text>
<text x="154.2" y="653" font-size="10.2" fill="#e2820e" font-weight="bold" font-style="italic" transform="translate(0 -39.18) scale(1 1.06)" stroke="#e2820e" stroke-width="0.25" textLength="33.4" lengthAdjust="spacingAndGlyphs">NE d10</text>
<text x="364.3" y="579.6" font-size="11.5" fill="#000" text-anchor="middle">Instantaneous Firing</text>
<text x="364.2" y="591.3" font-size="11.5" fill="#000" text-anchor="middle">Frequency</text>
<polyline points="292.7,646 298.8,646 302.35,638.3 302.5,611.5 302.7,614 303,638.3 303.5,642.4 305.06,641 306.62,640.17 308.18,639.48 309.74,638.87 311.25,638.3 311.4,611.5 311.6,614 311.9,638.3 312.4,642.4 314.22,641 316.04,640.17 317.86,639.48 319.68,638.87 321.45,638.3 321.6,611.5 321.8,614 322.1,638.3 322.6,642.4 324.54,641 326.48,640.17 328.42,639.48 330.36,638.87 332.25,638.3 332.4,611.5 332.6,614 332.9,638.3 333.4,642.4 335.38,641 337.36,640.17 339.34,639.48 341.32,638.87 343.25,638.3 343.4,611.5 343.6,614 343.9,638.3 344.4,642.4 346.58,641 348.76,640.17 350.94,639.48 353.12,638.87 355.25,638.3 355.4,611.5 355.6,614 355.9,638.3 356.4,642.4 358.36,641 360.32,640.17 362.28,639.48 364.24,638.87 366.15,638.3 366.3,611.5 366.5,614 366.8,638.3 367.3,642.4 369.34,641 371.38,640.17 373.42,639.48 375.46,638.87 377.45,638.3 377.6,611.5 377.8,614 378.1,638.3 378.6,642.4 380.84,641 383.08,640.17 385.32,639.48 387.56,638.87 389.75,638.3 389.9,611.5 390.1,614 390.4,638.3 390.9,642.4 393.12,641 395.34,640.17 397.56,639.48 399.78,638.87 401.95,638.3 402.1,611.5 402.3,614 402.6,638.3 403.1,642.4 405.28,641 407.46,640.17 409.64,639.48 411.82,638.87 413.95,638.3 414.1,611.5 414.3,614 414.6,638.3 415.1,642.4 417.44,641 419.78,640.17 422.12,639.48 424.46,638.87 426.75,638.3 426.9,611.5 427.1,614 427.4,638.3 427.9,642.4 430.14,641 432.38,640.17 434.62,639.48 436.86,638.87 439.05,638.3 439.2,611.5 439.4,614 439.7,638.3 440.2,642.4 440.5,638.3 440.94,641.39 441.38,643.26 441.81,644.39 442.25,645.08 442.69,645.5 443.12,645.75 443.56,645.91 444,646 455.7,646" fill="none" stroke="#b5b5b5" stroke-width="0.8" stroke-linejoin="round"/>
<polyline points="292.7,698.8 298.8,698.8 302.35,690.7 302.5,664.4 302.7,666.9 303,690.7 303.5,695.8 305.06,694.06 306.62,693.03 308.18,692.17 309.74,691.4 311.25,690.7 311.4,664.4 311.6,666.9 311.9,690.7 312.4,695.8 314.44,694.06 316.48,693.03 318.52,692.17 320.56,691.4 322.55,690.7 322.7,664.4 322.9,666.9 323.2,690.7 323.7,695.8 325.66,694.06 327.62,693.03 329.58,692.17 331.54,691.4 333.45,690.7 333.6,664.4 333.8,666.9 334.1,690.7 334.6,695.8 336.58,694.06 338.56,693.03 340.54,692.17 342.52,691.4 344.45,690.7 344.6,664.4 344.8,666.9 345.1,690.7 345.6,695.8 347.64,694.06 349.68,693.03 351.72,692.17 353.76,691.4 355.75,690.7 355.9,664.4 356.1,666.9 356.4,690.7 356.9,695.8 358.98,694.06 361.06,693.03 363.14,692.17 365.22,691.4 367.25,690.7 367.4,664.4 367.6,666.9 367.9,690.7 368.4,695.8 370.48,694.06 372.56,693.03 374.64,692.17 376.72,691.4 378.75,690.7 378.9,664.4 379.1,666.9 379.4,690.7 379.9,695.8 381.98,694.06 384.06,693.03 386.14,692.17 388.22,691.4 390.25,690.7 390.4,664.4 390.6,666.9 390.9,690.7 391.4,695.8 393.62,694.06 395.84,693.03 398.06,692.17 400.28,691.4 402.45,690.7 402.6,664.4 402.8,666.9 403.1,690.7 403.6,695.8 405.84,694.06 408.08,693.03 410.32,692.17 412.56,691.4 414.75,690.7 414.9,664.4 415.1,666.9 415.4,690.7 415.9,695.8 418.18,694.06 420.46,693.03 422.74,692.17 425.02,691.4 427.25,690.7 427.4,664.4 427.6,666.9 427.9,690.7 428.4,695.8 430.54,694.06 432.68,693.03 434.82,692.17 436.96,691.4 439.05,690.7 439.2,664.4 439.4,666.9 439.7,690.7 440.2,695.8 440.5,690.7 440.94,693.95 441.38,695.92 441.81,697.11 442.25,697.83 442.69,698.27 443.12,698.54 443.56,698.7 444,698.8 455.7,698.8" fill="none" stroke="#e68c1e" stroke-width="0.8" stroke-linejoin="round"/>
<text x="301.3" y="608.6" font-size="9.8" fill="#111" font-style="italic">f1</text>
<text x="308.7" y="608.6" font-size="9.8" fill="#111" font-style="italic">f2</text>
<text x="318.6" y="608.6" font-size="9.8" fill="#111" font-style="italic">f3</text>
<text x="330.3" y="608.6" font-size="9.8" fill="#111" font-style="italic">f4</text>
<text x="341.5" y="608.6" font-size="9.8" fill="#111" font-style="italic">f5</text>
<text x="351.6" y="608.6" font-size="9.8" fill="#111" font-style="italic">f6</text>
<text x="362.9" y="608.6" font-size="9.8" fill="#111" font-style="italic">f7</text>
<text x="374.6" y="608.6" font-size="9.8" fill="#111" font-style="italic">f8</text>
<text x="387.6" y="608.6" font-size="9.8" fill="#111" font-style="italic">f9</text>
<text x="400.7" y="608.6" font-size="9.8" fill="#111" font-style="italic">f10</text>
<text x="413.8" y="608.6" font-size="9.8" fill="#111" textLength="11.6" lengthAdjust="spacingAndGlyphs">...</text>
<text x="301.3" y="662.4" font-size="9.8" fill="#111" font-style="italic">f1</text>
<text x="308.7" y="662.4" font-size="9.8" fill="#111" font-style="italic">f2</text>
<text x="318.6" y="662.4" font-size="9.8" fill="#111" font-style="italic">f3</text>
<text x="330" y="662.4" font-size="9.8" fill="#111" font-style="italic">f4</text>
<text x="341.5" y="662.4" font-size="9.8" fill="#111" font-style="italic">f5</text>
<text x="352.9" y="662.4" font-size="9.8" fill="#111" font-style="italic">f6</text>
<text x="364.5" y="662.4" font-size="9.8" fill="#111" font-style="italic">f7</text>
<text x="376" y="662.4" font-size="9.8" fill="#111" font-style="italic">f8</text>
<text x="387.6" y="662.4" font-size="9.8" fill="#111" font-style="italic">f9</text>
<text x="400.2" y="662.4" font-size="9.8" fill="#111" font-style="italic">f10</text>
<text x="413.8" y="662.4" font-size="9.8" fill="#111" textLength="11.6" lengthAdjust="spacingAndGlyphs">...</text>
<line x1="586.6" y1="585.7" x2="586.6" y2="684" stroke="#000" stroke-width="1.5"/>
<line x1="582" y1="586.4" x2="586.6" y2="586.4" stroke="#000" stroke-width="1.5"/>
<line x1="582" y1="605.78" x2="586.6" y2="605.78" stroke="#000" stroke-width="1.5"/>
<line x1="582" y1="625.16" x2="586.6" y2="625.16" stroke="#000" stroke-width="1.5"/>
<line x1="582" y1="644.54" x2="586.6" y2="644.54" stroke="#000" stroke-width="1.5"/>
<line x1="582" y1="663.92" x2="586.6" y2="663.92" stroke="#000" stroke-width="1.5"/>
<line x1="582" y1="683.3" x2="586.6" y2="683.3" stroke="#000" stroke-width="1.5"/>
<text x="578.9" y="591" font-size="12.8" fill="#000" text-anchor="end" textLength="24.6" lengthAdjust="spacingAndGlyphs">1.25</text>
<text x="578.9" y="687.9" font-size="12.8" fill="#000" text-anchor="end">0</text>
<polyline points="592,683.3 592,634.1 601.5,634.1 601.5,683.3" fill="none" stroke="#a6a7ab" stroke-width="1.45" stroke-linejoin="round" stroke-linejoin="miter"/>
<line x1="596.75" y1="630.6" x2="596.75" y2="636.9" stroke="#a6a7ab" stroke-width="1.1"/>
<line x1="594.75" y1="630.6" x2="598.75" y2="630.6" stroke="#a6a7ab" stroke-width="1.1"/>
<line x1="594.75" y1="636.9" x2="598.75" y2="636.9" stroke="#a6a7ab" stroke-width="1.1"/>
<circle cx="596.4" cy="607.1" r="1.6" fill="#a6a7ab" stroke="none" stroke-width="1"/>
<circle cx="596.4" cy="611.5" r="1.6" fill="#a6a7ab" stroke="none" stroke-width="1"/>
<circle cx="592.6" cy="614.7" r="1.6" fill="#a6a7ab" stroke="none" stroke-width="1"/>
<circle cx="596.4" cy="615.3" r="1.6" fill="#a6a7ab" stroke="none" stroke-width="1"/>
<circle cx="600.2" cy="614.1" r="1.6" fill="#a6a7ab" stroke="none" stroke-width="1"/>
<circle cx="592.6" cy="624.9" r="1.6" fill="#a6a7ab" stroke="none" stroke-width="1"/>
<circle cx="596.4" cy="626.1" r="1.6" fill="#a6a7ab" stroke="none" stroke-width="1"/>
<circle cx="600.2" cy="629.3" r="1.6" fill="#a6a7ab" stroke="none" stroke-width="1"/>
<circle cx="592.6" cy="628.7" r="1.6" fill="#a6a7ab" stroke="none" stroke-width="1"/>
<circle cx="596.4" cy="628.7" r="1.6" fill="#a6a7ab" stroke="none" stroke-width="1"/>
<circle cx="593.55" cy="631.81" r="1.6" fill="#a6a7ab" stroke="none" stroke-width="1"/>
<circle cx="597.31" cy="633.4" r="1.6" fill="#a6a7ab" stroke="none" stroke-width="1"/>
<circle cx="599.62" cy="634.08" r="1.6" fill="#a6a7ab" stroke="none" stroke-width="1"/>
<circle cx="594.13" cy="634.86" r="1.6" fill="#a6a7ab" stroke="none" stroke-width="1"/>
<circle cx="596.85" cy="635.83" r="1.6" fill="#a6a7ab" stroke="none" stroke-width="1"/>
<circle cx="599.93" cy="636.74" r="1.6" fill="#a6a7ab" stroke="none" stroke-width="1"/>
<circle cx="596.4" cy="642.6" r="1.6" fill="#a6a7ab" stroke="none" stroke-width="1"/>
<circle cx="596.4" cy="650.3" r="1.6" fill="#a6a7ab" stroke="none" stroke-width="1"/>
<circle cx="596.4" cy="654" r="1.6" fill="#a6a7ab" stroke="none" stroke-width="1"/>
<circle cx="596.4" cy="657.9" r="1.6" fill="#a6a7ab" stroke="none" stroke-width="1"/>
<circle cx="594.5" cy="663.6" r="1.6" fill="#a6a7ab" stroke="none" stroke-width="1"/>
<circle cx="598.3" cy="663" r="1.6" fill="#a6a7ab" stroke="none" stroke-width="1"/>
<text x="601.65" y="687.9" font-size="9.3" fill="#a6a7ab" font-style="italic" text-anchor="end" transform="rotate(-57 601.65 687.9)" stroke="#a6a7ab" stroke-width="0.3">SE d1</text>
<polyline points="606.6,683.3 606.6,626.1 616.1,626.1 616.1,683.3" fill="none" stroke="#e2820e" stroke-width="1.45" stroke-linejoin="round" stroke-linejoin="miter"/>
<circle cx="611.7" cy="606.4" r="1.6" fill="#e2820e" stroke="none" stroke-width="1"/>
<circle cx="611.7" cy="609" r="1.6" fill="#e2820e" stroke="none" stroke-width="1"/>
<circle cx="607.2" cy="614.3" r="1.6" fill="#e2820e" stroke="none" stroke-width="1"/>
<circle cx="611.1" cy="614" r="1.6" fill="#e2820e" stroke="none" stroke-width="1"/>
<circle cx="615.5" cy="617.2" r="1.6" fill="#e2820e" stroke="none" stroke-width="1"/>
<circle cx="607.2" cy="618.5" r="1.6" fill="#e2820e" stroke="none" stroke-width="1"/>
<circle cx="611.7" cy="621.7" r="1.6" fill="#e2820e" stroke="none" stroke-width="1"/>
<circle cx="614.2" cy="621.7" r="1.6" fill="#e2820e" stroke="none" stroke-width="1"/>
<circle cx="607.76" cy="624.88" r="1.6" fill="#e2820e" stroke="none" stroke-width="1"/>
<circle cx="611.36" cy="625.67" r="1.6" fill="#e2820e" stroke="none" stroke-width="1"/>
<circle cx="614.74" cy="626.61" r="1.6" fill="#e2820e" stroke="none" stroke-width="1"/>
<circle cx="608.68" cy="627.03" r="1.6" fill="#e2820e" stroke="none" stroke-width="1"/>
<circle cx="610.78" cy="628.11" r="1.6" fill="#e2820e" stroke="none" stroke-width="1"/>
<circle cx="614.49" cy="628.65" r="1.6" fill="#e2820e" stroke="none" stroke-width="1"/>
<circle cx="607.96" cy="629.86" r="1.6" fill="#e2820e" stroke="none" stroke-width="1"/>
<circle cx="611.16" cy="630.53" r="1.6" fill="#e2820e" stroke="none" stroke-width="1"/>
<circle cx="614.91" cy="631.55" r="1.6" fill="#e2820e" stroke="none" stroke-width="1"/>
<circle cx="608.5" cy="632.21" r="1.6" fill="#e2820e" stroke="none" stroke-width="1"/>
<circle cx="608.34" cy="636.55" r="1.6" fill="#e2820e" stroke="none" stroke-width="1"/>
<circle cx="611.61" cy="637.89" r="1.6" fill="#e2820e" stroke="none" stroke-width="1"/>
<circle cx="613.65" cy="639.13" r="1.6" fill="#e2820e" stroke="none" stroke-width="1"/>
<circle cx="608.67" cy="639.86" r="1.6" fill="#e2820e" stroke="none" stroke-width="1"/>
<circle cx="611.46" cy="641.75" r="1.6" fill="#e2820e" stroke="none" stroke-width="1"/>
<circle cx="611.7" cy="643.3" r="1.6" fill="#e2820e" stroke="none" stroke-width="1"/>
<circle cx="611.7" cy="645.8" r="1.6" fill="#e2820e" stroke="none" stroke-width="1"/>
<text x="617.15" y="687.9" font-size="9.3" fill="#e2820e" font-weight="bold" font-style="italic" text-anchor="end" transform="rotate(-57 617.15 687.9)">NE d1</text>
<polyline points="632.3,683.3 632.3,629.9 640.9,629.9 640.9,683.3" fill="none" stroke="#a6a7ab" stroke-width="1.45" stroke-linejoin="round" stroke-linejoin="miter"/>
<circle cx="636.5" cy="609" r="1.6" fill="#a6a7ab" stroke="none" stroke-width="1"/>
<circle cx="636.5" cy="614" r="1.6" fill="#a6a7ab" stroke="none" stroke-width="1"/>
<circle cx="632.6" cy="617.9" r="1.6" fill="#a6a7ab" stroke="none" stroke-width="1"/>
<circle cx="636.5" cy="617.9" r="1.6" fill="#a6a7ab" stroke="none" stroke-width="1"/>
<circle cx="640.9" cy="617.9" r="1.6" fill="#a6a7ab" stroke="none" stroke-width="1"/>
<circle cx="633.81" cy="625.1" r="1.6" fill="#a6a7ab" stroke="none" stroke-width="1"/>
<circle cx="636.36" cy="625.74" r="1.6" fill="#a6a7ab" stroke="none" stroke-width="1"/>
<circle cx="640.3" cy="626.34" r="1.6" fill="#a6a7ab" stroke="none" stroke-width="1"/>
<circle cx="634.42" cy="627.13" r="1.6" fill="#a6a7ab" stroke="none" stroke-width="1"/>
<circle cx="636.62" cy="627.8" r="1.6" fill="#a6a7ab" stroke="none" stroke-width="1"/>
<circle cx="639.53" cy="628.63" r="1.6" fill="#a6a7ab" stroke="none" stroke-width="1"/>
<circle cx="634.45" cy="629.25" r="1.6" fill="#a6a7ab" stroke="none" stroke-width="1"/>
<circle cx="637.27" cy="630.22" r="1.6" fill="#a6a7ab" stroke="none" stroke-width="1"/>
<circle cx="640.4" cy="630.77" r="1.6" fill="#a6a7ab" stroke="none" stroke-width="1"/>
<circle cx="633.96" cy="631.63" r="1.6" fill="#a6a7ab" stroke="none" stroke-width="1"/>
<circle cx="635.8" cy="636.3" r="1.6" fill="#a6a7ab" stroke="none" stroke-width="1"/>
<circle cx="636.5" cy="640.1" r="1.6" fill="#a6a7ab" stroke="none" stroke-width="1"/>
<circle cx="636.5" cy="654.7" r="1.6" fill="#a6a7ab" stroke="none" stroke-width="1"/>
<circle cx="636.5" cy="674.4" r="1.6" fill="#a6a7ab" stroke="none" stroke-width="1"/>
<text x="641.5" y="687.9" font-size="9.3" fill="#a6a7ab" font-style="italic" text-anchor="end" transform="rotate(-57 641.5 687.9)" stroke="#a6a7ab" stroke-width="0.3">SE d10</text>
<polyline points="647.3,683.3 647.3,633.8 656.8,633.8 656.8,683.3" fill="none" stroke="#e2820e" stroke-width="1.45" stroke-linejoin="round" stroke-linejoin="miter"/>
<circle cx="647.9" cy="613.4" r="1.6" fill="#e2820e" stroke="none" stroke-width="1"/>
<circle cx="651.7" cy="615.3" r="1.6" fill="#e2820e" stroke="none" stroke-width="1"/>
<circle cx="647.3" cy="619.1" r="1.6" fill="#e2820e" stroke="none" stroke-width="1"/>
<circle cx="651.7" cy="621" r="1.6" fill="#e2820e" stroke="none" stroke-width="1"/>
<circle cx="647.9" cy="623.6" r="1.6" fill="#e2820e" stroke="none" stroke-width="1"/>
<circle cx="655.5" cy="624.2" r="1.6" fill="#e2820e" stroke="none" stroke-width="1"/>
<circle cx="647.3" cy="625.5" r="1.6" fill="#e2820e" stroke="none" stroke-width="1"/>
<circle cx="651.1" cy="626.1" r="1.6" fill="#e2820e" stroke="none" stroke-width="1"/>
<circle cx="651.7" cy="629.3" r="1.6" fill="#e2820e" stroke="none" stroke-width="1"/>
<circle cx="648.36" cy="631.52" r="1.6" fill="#e2820e" stroke="none" stroke-width="1"/>
<circle cx="651.99" cy="632.09" r="1.6" fill="#e2820e" stroke="none" stroke-width="1"/>
<circle cx="655.37" cy="632.66" r="1.6" fill="#e2820e" stroke="none" stroke-width="1"/>
<circle cx="648.36" cy="633.02" r="1.6" fill="#e2820e" stroke="none" stroke-width="1"/>
<circle cx="651.6" cy="633.87" r="1.6" fill="#e2820e" stroke="none" stroke-width="1"/>
<circle cx="655.01" cy="634.22" r="1.6" fill="#e2820e" stroke="none" stroke-width="1"/>
<circle cx="649.19" cy="634.71" r="1.6" fill="#e2820e" stroke="none" stroke-width="1"/>
<circle cx="651.76" cy="635.58" r="1.6" fill="#e2820e" stroke="none" stroke-width="1"/>
<circle cx="651.7" cy="643.3" r="1.6" fill="#e2820e" stroke="none" stroke-width="1"/>
<circle cx="651.7" cy="645.8" r="1.6" fill="#e2820e" stroke="none" stroke-width="1"/>
<circle cx="647.3" cy="647" r="1.6" fill="#e2820e" stroke="none" stroke-width="1"/>
<circle cx="651.1" cy="649" r="1.6" fill="#e2820e" stroke="none" stroke-width="1"/>
<circle cx="656.2" cy="648.4" r="1.6" fill="#e2820e" stroke="none" stroke-width="1"/>
<circle cx="651.7" cy="662.3" r="1.6" fill="#e2820e" stroke="none" stroke-width="1"/>
<text x="657.85" y="687.9" font-size="9.3" fill="#e2820e" font-weight="bold" font-style="italic" text-anchor="end" transform="rotate(-57 657.85 687.9)">NE d10</text>
<text transform="translate(560.3 685) rotate(-90)"><tspan font-size="11.7" dy="0">Adaptation Ratio</tspan></text>
<text transform="translate(571.8 643.7) rotate(-90)" text-anchor="middle"><tspan font-size="11.2" dy="0">(f9/f2)</tspan></text>
</svg>
</body></html>
